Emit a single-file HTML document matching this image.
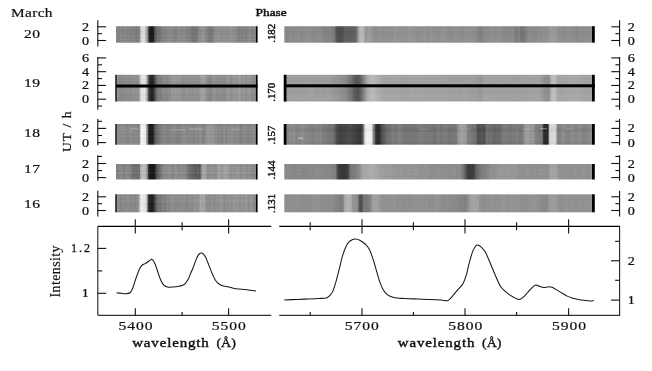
<!DOCTYPE html><html><head><meta charset="utf-8"><title>Spectra</title><style>html,body{margin:0;padding:0;background:#fff;width:652px;height:371px;overflow:hidden}</style></head><body><svg width="652" height="371" viewBox="0 0 652 371" style="display:block">
<defs><linearGradient id="g20L" gradientUnits="userSpaceOnUse" x1="116.0" y1="0" x2="255.8" y2="0"><stop offset="0.0000" stop-color="rgb(137,137,137)"/><stop offset="0.0122" stop-color="rgb(135,135,135)"/><stop offset="0.0243" stop-color="rgb(132,132,132)"/><stop offset="0.0365" stop-color="rgb(141,141,141)"/><stop offset="0.0486" stop-color="rgb(132,132,132)"/><stop offset="0.0608" stop-color="rgb(139,139,139)"/><stop offset="0.0644" stop-color="rgb(139,139,139)"/><stop offset="0.0730" stop-color="rgb(136,136,136)"/><stop offset="0.0851" stop-color="rgb(131,131,131)"/><stop offset="0.0973" stop-color="rgb(137,137,137)"/><stop offset="0.1094" stop-color="rgb(129,129,129)"/><stop offset="0.1216" stop-color="rgb(134,134,134)"/><stop offset="0.1288" stop-color="rgb(135,135,135)"/><stop offset="0.1338" stop-color="rgb(127,127,127)"/><stop offset="0.1459" stop-color="rgb(124,124,124)"/><stop offset="0.1538" stop-color="rgb(129,129,129)"/><stop offset="0.1581" stop-color="rgb(130,130,130)"/><stop offset="0.1681" stop-color="rgb(135,135,135)"/><stop offset="0.1702" stop-color="rgb(157,157,157)"/><stop offset="0.1760" stop-color="rgb(198,198,198)"/><stop offset="0.1824" stop-color="rgb(215,215,215)"/><stop offset="0.1845" stop-color="rgb(228,228,228)"/><stop offset="0.1946" stop-color="rgb(223,223,223)"/><stop offset="0.2046" stop-color="rgb(226,226,226)"/><stop offset="0.2067" stop-color="rgb(217,217,217)"/><stop offset="0.2117" stop-color="rgb(186,186,186)"/><stop offset="0.2189" stop-color="rgb(176,176,176)"/><stop offset="0.2217" stop-color="rgb(163,163,163)"/><stop offset="0.2303" stop-color="rgb(105,105,105)"/><stop offset="0.2310" stop-color="rgb(99,99,99)"/><stop offset="0.2375" stop-color="rgb(40,40,40)"/><stop offset="0.2432" stop-color="rgb(33,33,33)"/><stop offset="0.2539" stop-color="rgb(25,25,25)"/><stop offset="0.2554" stop-color="rgb(34,34,34)"/><stop offset="0.2675" stop-color="rgb(27,27,27)"/><stop offset="0.2690" stop-color="rgb(35,35,35)"/><stop offset="0.2761" stop-color="rgb(80,80,80)"/><stop offset="0.2797" stop-color="rgb(93,93,93)"/><stop offset="0.2876" stop-color="rgb(103,103,103)"/><stop offset="0.2918" stop-color="rgb(105,105,105)"/><stop offset="0.3004" stop-color="rgb(120,120,120)"/><stop offset="0.3040" stop-color="rgb(115,115,115)"/><stop offset="0.3162" stop-color="rgb(119,119,119)"/><stop offset="0.3283" stop-color="rgb(126,126,126)"/><stop offset="0.3290" stop-color="rgb(129,129,129)"/><stop offset="0.3405" stop-color="rgb(136,136,136)"/><stop offset="0.3526" stop-color="rgb(129,129,129)"/><stop offset="0.3648" stop-color="rgb(138,138,138)"/><stop offset="0.3770" stop-color="rgb(141,141,141)"/><stop offset="0.3863" stop-color="rgb(141,141,141)"/><stop offset="0.3891" stop-color="rgb(139,139,139)"/><stop offset="0.4013" stop-color="rgb(142,142,142)"/><stop offset="0.4134" stop-color="rgb(134,134,134)"/><stop offset="0.4256" stop-color="rgb(134,134,134)"/><stop offset="0.4378" stop-color="rgb(136,136,136)"/><stop offset="0.4499" stop-color="rgb(144,144,144)"/><stop offset="0.4621" stop-color="rgb(140,140,140)"/><stop offset="0.4742" stop-color="rgb(138,138,138)"/><stop offset="0.4864" stop-color="rgb(142,142,142)"/><stop offset="0.4936" stop-color="rgb(141,141,141)"/><stop offset="0.4986" stop-color="rgb(138,138,138)"/><stop offset="0.5107" stop-color="rgb(131,131,131)"/><stop offset="0.5229" stop-color="rgb(135,135,135)"/><stop offset="0.5351" stop-color="rgb(129,129,129)"/><stop offset="0.5365" stop-color="rgb(125,125,125)"/><stop offset="0.5472" stop-color="rgb(118,118,118)"/><stop offset="0.5594" stop-color="rgb(120,120,120)"/><stop offset="0.5651" stop-color="rgb(117,117,117)"/><stop offset="0.5715" stop-color="rgb(119,119,119)"/><stop offset="0.5837" stop-color="rgb(128,128,128)"/><stop offset="0.5880" stop-color="rgb(123,123,123)"/><stop offset="0.5959" stop-color="rgb(145,145,145)"/><stop offset="0.5973" stop-color="rgb(145,145,145)"/><stop offset="0.6080" stop-color="rgb(142,142,142)"/><stop offset="0.6202" stop-color="rgb(154,154,154)"/><stop offset="0.6323" stop-color="rgb(141,141,141)"/><stop offset="0.6330" stop-color="rgb(147,147,147)"/><stop offset="0.6445" stop-color="rgb(135,135,135)"/><stop offset="0.6509" stop-color="rgb(131,131,131)"/><stop offset="0.6567" stop-color="rgb(133,133,133)"/><stop offset="0.6688" stop-color="rgb(119,119,119)"/><stop offset="0.6724" stop-color="rgb(123,123,123)"/><stop offset="0.6810" stop-color="rgb(125,125,125)"/><stop offset="0.6931" stop-color="rgb(121,121,121)"/><stop offset="0.6938" stop-color="rgb(129,129,129)"/><stop offset="0.7053" stop-color="rgb(143,143,143)"/><stop offset="0.7082" stop-color="rgb(143,143,143)"/><stop offset="0.7175" stop-color="rgb(147,147,147)"/><stop offset="0.7296" stop-color="rgb(144,144,144)"/><stop offset="0.7418" stop-color="rgb(149,149,149)"/><stop offset="0.7539" stop-color="rgb(140,140,140)"/><stop offset="0.7661" stop-color="rgb(146,146,146)"/><stop offset="0.7783" stop-color="rgb(145,145,145)"/><stop offset="0.7904" stop-color="rgb(144,144,144)"/><stop offset="0.8026" stop-color="rgb(142,142,142)"/><stop offset="0.8147" stop-color="rgb(148,148,148)"/><stop offset="0.8269" stop-color="rgb(150,150,150)"/><stop offset="0.8391" stop-color="rgb(143,143,143)"/><stop offset="0.8512" stop-color="rgb(143,143,143)"/><stop offset="0.8634" stop-color="rgb(141,141,141)"/><stop offset="0.8755" stop-color="rgb(126,126,126)"/><stop offset="0.8834" stop-color="rgb(130,130,130)"/><stop offset="0.8877" stop-color="rgb(133,133,133)"/><stop offset="0.8999" stop-color="rgb(131,131,131)"/><stop offset="0.9120" stop-color="rgb(136,136,136)"/><stop offset="0.9242" stop-color="rgb(133,133,133)"/><stop offset="0.9299" stop-color="rgb(127,127,127)"/><stop offset="0.9363" stop-color="rgb(129,129,129)"/><stop offset="0.9442" stop-color="rgb(140,140,140)"/><stop offset="0.9485" stop-color="rgb(138,138,138)"/><stop offset="0.9607" stop-color="rgb(143,143,143)"/><stop offset="0.9728" stop-color="rgb(132,132,132)"/><stop offset="0.9850" stop-color="rgb(139,139,139)"/><stop offset="0.9971" stop-color="rgb(135,135,135)"/><stop offset="1.0000" stop-color="rgb(140,140,140)"/></linearGradient><linearGradient id="g20R" gradientUnits="userSpaceOnUse" x1="284.3" y1="0" x2="592.0" y2="0"><stop offset="0.0000" stop-color="rgb(139,139,139)"/><stop offset="0.0065" stop-color="rgb(136,136,136)"/><stop offset="0.0130" stop-color="rgb(136,136,136)"/><stop offset="0.0195" stop-color="rgb(142,142,142)"/><stop offset="0.0260" stop-color="rgb(137,137,137)"/><stop offset="0.0325" stop-color="rgb(138,138,138)"/><stop offset="0.0390" stop-color="rgb(139,139,139)"/><stop offset="0.0455" stop-color="rgb(143,143,143)"/><stop offset="0.0510" stop-color="rgb(140,140,140)"/><stop offset="0.0520" stop-color="rgb(137,137,137)"/><stop offset="0.0585" stop-color="rgb(139,139,139)"/><stop offset="0.0650" stop-color="rgb(140,140,140)"/><stop offset="0.0715" stop-color="rgb(143,143,143)"/><stop offset="0.0780" stop-color="rgb(142,142,142)"/><stop offset="0.0845" stop-color="rgb(142,142,142)"/><stop offset="0.0910" stop-color="rgb(138,138,138)"/><stop offset="0.0975" stop-color="rgb(139,139,139)"/><stop offset="0.1040" stop-color="rgb(138,138,138)"/><stop offset="0.1105" stop-color="rgb(142,142,142)"/><stop offset="0.1160" stop-color="rgb(139,139,139)"/><stop offset="0.1170" stop-color="rgb(142,142,142)"/><stop offset="0.1235" stop-color="rgb(135,135,135)"/><stop offset="0.1300" stop-color="rgb(133,133,133)"/><stop offset="0.1365" stop-color="rgb(132,132,132)"/><stop offset="0.1430" stop-color="rgb(131,131,131)"/><stop offset="0.1485" stop-color="rgb(132,132,132)"/><stop offset="0.1495" stop-color="rgb(131,131,131)"/><stop offset="0.1560" stop-color="rgb(127,127,127)"/><stop offset="0.1625" stop-color="rgb(119,119,119)"/><stop offset="0.1631" stop-color="rgb(120,120,120)"/><stop offset="0.1680" stop-color="rgb(90,90,90)"/><stop offset="0.1690" stop-color="rgb(85,85,85)"/><stop offset="0.1755" stop-color="rgb(79,79,79)"/><stop offset="0.1778" stop-color="rgb(77,77,77)"/><stop offset="0.1820" stop-color="rgb(77,77,77)"/><stop offset="0.1885" stop-color="rgb(80,80,80)"/><stop offset="0.1908" stop-color="rgb(80,80,80)"/><stop offset="0.1950" stop-color="rgb(92,92,92)"/><stop offset="0.1973" stop-color="rgb(93,93,93)"/><stop offset="0.2015" stop-color="rgb(95,95,95)"/><stop offset="0.2080" stop-color="rgb(94,94,94)"/><stop offset="0.2145" stop-color="rgb(95,95,95)"/><stop offset="0.2200" stop-color="rgb(95,95,95)"/><stop offset="0.2210" stop-color="rgb(97,97,97)"/><stop offset="0.2275" stop-color="rgb(96,96,96)"/><stop offset="0.2330" stop-color="rgb(103,103,103)"/><stop offset="0.2340" stop-color="rgb(113,113,113)"/><stop offset="0.2379" stop-color="rgb(135,135,135)"/><stop offset="0.2405" stop-color="rgb(154,154,154)"/><stop offset="0.2444" stop-color="rgb(177,177,177)"/><stop offset="0.2470" stop-color="rgb(183,183,183)"/><stop offset="0.2525" stop-color="rgb(186,186,186)"/><stop offset="0.2535" stop-color="rgb(187,187,187)"/><stop offset="0.2600" stop-color="rgb(171,171,171)"/><stop offset="0.2606" stop-color="rgb(171,171,171)"/><stop offset="0.2655" stop-color="rgb(143,143,143)"/><stop offset="0.2665" stop-color="rgb(145,145,145)"/><stop offset="0.2720" stop-color="rgb(161,161,161)"/><stop offset="0.2730" stop-color="rgb(157,157,157)"/><stop offset="0.2785" stop-color="rgb(155,155,155)"/><stop offset="0.2795" stop-color="rgb(155,155,155)"/><stop offset="0.2860" stop-color="rgb(146,146,146)"/><stop offset="0.2915" stop-color="rgb(145,145,145)"/><stop offset="0.2925" stop-color="rgb(142,142,142)"/><stop offset="0.2990" stop-color="rgb(143,143,143)"/><stop offset="0.3055" stop-color="rgb(144,144,144)"/><stop offset="0.3110" stop-color="rgb(147,147,147)"/><stop offset="0.3120" stop-color="rgb(146,146,146)"/><stop offset="0.3185" stop-color="rgb(143,143,143)"/><stop offset="0.3250" stop-color="rgb(143,143,143)"/><stop offset="0.3315" stop-color="rgb(144,144,144)"/><stop offset="0.3380" stop-color="rgb(144,144,144)"/><stop offset="0.3445" stop-color="rgb(146,146,146)"/><stop offset="0.3510" stop-color="rgb(143,143,143)"/><stop offset="0.3575" stop-color="rgb(150,150,150)"/><stop offset="0.3640" stop-color="rgb(148,148,148)"/><stop offset="0.3705" stop-color="rgb(144,144,144)"/><stop offset="0.3760" stop-color="rgb(147,147,147)"/><stop offset="0.3770" stop-color="rgb(145,145,145)"/><stop offset="0.3835" stop-color="rgb(146,146,146)"/><stop offset="0.3900" stop-color="rgb(146,146,146)"/><stop offset="0.3965" stop-color="rgb(144,144,144)"/><stop offset="0.4030" stop-color="rgb(149,149,149)"/><stop offset="0.4095" stop-color="rgb(150,150,150)"/><stop offset="0.4160" stop-color="rgb(146,146,146)"/><stop offset="0.4225" stop-color="rgb(146,146,146)"/><stop offset="0.4290" stop-color="rgb(143,143,143)"/><stop offset="0.4355" stop-color="rgb(143,143,143)"/><stop offset="0.4420" stop-color="rgb(144,144,144)"/><stop offset="0.4485" stop-color="rgb(144,144,144)"/><stop offset="0.4550" stop-color="rgb(148,148,148)"/><stop offset="0.4615" stop-color="rgb(143,143,143)"/><stop offset="0.4680" stop-color="rgb(141,141,141)"/><stop offset="0.4735" stop-color="rgb(145,145,145)"/><stop offset="0.4745" stop-color="rgb(149,149,149)"/><stop offset="0.4810" stop-color="rgb(145,145,145)"/><stop offset="0.4875" stop-color="rgb(142,142,142)"/><stop offset="0.4940" stop-color="rgb(145,145,145)"/><stop offset="0.5005" stop-color="rgb(140,140,140)"/><stop offset="0.5070" stop-color="rgb(144,144,144)"/><stop offset="0.5135" stop-color="rgb(148,148,148)"/><stop offset="0.5200" stop-color="rgb(147,147,147)"/><stop offset="0.5265" stop-color="rgb(145,145,145)"/><stop offset="0.5330" stop-color="rgb(141,141,141)"/><stop offset="0.5395" stop-color="rgb(142,142,142)"/><stop offset="0.5460" stop-color="rgb(140,140,140)"/><stop offset="0.5525" stop-color="rgb(145,145,145)"/><stop offset="0.5590" stop-color="rgb(143,143,143)"/><stop offset="0.5655" stop-color="rgb(145,145,145)"/><stop offset="0.5720" stop-color="rgb(141,141,141)"/><stop offset="0.5785" stop-color="rgb(140,140,140)"/><stop offset="0.5850" stop-color="rgb(145,145,145)"/><stop offset="0.5915" stop-color="rgb(146,146,146)"/><stop offset="0.5980" stop-color="rgb(144,144,144)"/><stop offset="0.6045" stop-color="rgb(144,144,144)"/><stop offset="0.6110" stop-color="rgb(144,144,144)"/><stop offset="0.6175" stop-color="rgb(143,143,143)"/><stop offset="0.6230" stop-color="rgb(141,141,141)"/><stop offset="0.6240" stop-color="rgb(138,138,138)"/><stop offset="0.6305" stop-color="rgb(133,133,133)"/><stop offset="0.6360" stop-color="rgb(127,127,127)"/><stop offset="0.6370" stop-color="rgb(127,127,127)"/><stop offset="0.6435" stop-color="rgb(131,131,131)"/><stop offset="0.6490" stop-color="rgb(141,141,141)"/><stop offset="0.6500" stop-color="rgb(137,137,137)"/><stop offset="0.6565" stop-color="rgb(139,139,139)"/><stop offset="0.6630" stop-color="rgb(139,139,139)"/><stop offset="0.6695" stop-color="rgb(142,142,142)"/><stop offset="0.6760" stop-color="rgb(144,144,144)"/><stop offset="0.6825" stop-color="rgb(140,140,140)"/><stop offset="0.6890" stop-color="rgb(144,144,144)"/><stop offset="0.6955" stop-color="rgb(144,144,144)"/><stop offset="0.7020" stop-color="rgb(144,144,144)"/><stop offset="0.7085" stop-color="rgb(139,139,139)"/><stop offset="0.7150" stop-color="rgb(137,137,137)"/><stop offset="0.7215" stop-color="rgb(137,137,137)"/><stop offset="0.7280" stop-color="rgb(137,137,137)"/><stop offset="0.7345" stop-color="rgb(137,137,137)"/><stop offset="0.7410" stop-color="rgb(140,140,140)"/><stop offset="0.7433" stop-color="rgb(139,139,139)"/><stop offset="0.7475" stop-color="rgb(133,133,133)"/><stop offset="0.7530" stop-color="rgb(117,117,117)"/><stop offset="0.7540" stop-color="rgb(122,122,122)"/><stop offset="0.7605" stop-color="rgb(131,131,131)"/><stop offset="0.7628" stop-color="rgb(135,135,135)"/><stop offset="0.7670" stop-color="rgb(122,122,122)"/><stop offset="0.7693" stop-color="rgb(113,113,113)"/><stop offset="0.7735" stop-color="rgb(119,119,119)"/><stop offset="0.7800" stop-color="rgb(118,118,118)"/><stop offset="0.7823" stop-color="rgb(123,123,123)"/><stop offset="0.7865" stop-color="rgb(130,130,130)"/><stop offset="0.7920" stop-color="rgb(137,137,137)"/><stop offset="0.7930" stop-color="rgb(140,140,140)"/><stop offset="0.7995" stop-color="rgb(140,140,140)"/><stop offset="0.8060" stop-color="rgb(140,140,140)"/><stop offset="0.8125" stop-color="rgb(138,138,138)"/><stop offset="0.8190" stop-color="rgb(136,136,136)"/><stop offset="0.8255" stop-color="rgb(142,142,142)"/><stop offset="0.8320" stop-color="rgb(139,139,139)"/><stop offset="0.8385" stop-color="rgb(143,143,143)"/><stop offset="0.8450" stop-color="rgb(145,145,145)"/><stop offset="0.8473" stop-color="rgb(141,141,141)"/><stop offset="0.8515" stop-color="rgb(143,143,143)"/><stop offset="0.8580" stop-color="rgb(147,147,147)"/><stop offset="0.8635" stop-color="rgb(151,151,151)"/><stop offset="0.8645" stop-color="rgb(155,155,155)"/><stop offset="0.8710" stop-color="rgb(154,154,154)"/><stop offset="0.8775" stop-color="rgb(151,151,151)"/><stop offset="0.8830" stop-color="rgb(155,155,155)"/><stop offset="0.8840" stop-color="rgb(151,151,151)"/><stop offset="0.8905" stop-color="rgb(144,144,144)"/><stop offset="0.8960" stop-color="rgb(141,141,141)"/><stop offset="0.8970" stop-color="rgb(144,144,144)"/><stop offset="0.9035" stop-color="rgb(143,143,143)"/><stop offset="0.9100" stop-color="rgb(138,138,138)"/><stop offset="0.9165" stop-color="rgb(143,143,143)"/><stop offset="0.9230" stop-color="rgb(144,144,144)"/><stop offset="0.9295" stop-color="rgb(142,142,142)"/><stop offset="0.9360" stop-color="rgb(139,139,139)"/><stop offset="0.9425" stop-color="rgb(140,140,140)"/><stop offset="0.9490" stop-color="rgb(137,137,137)"/><stop offset="0.9555" stop-color="rgb(136,136,136)"/><stop offset="0.9620" stop-color="rgb(143,143,143)"/><stop offset="0.9685" stop-color="rgb(141,141,141)"/><stop offset="0.9750" stop-color="rgb(140,140,140)"/><stop offset="0.9815" stop-color="rgb(143,143,143)"/><stop offset="0.9880" stop-color="rgb(139,139,139)"/><stop offset="0.9945" stop-color="rgb(142,142,142)"/><stop offset="1.0000" stop-color="rgb(139,139,139)"/></linearGradient><linearGradient id="g19L" gradientUnits="userSpaceOnUse" x1="116.0" y1="0" x2="255.8" y2="0"><stop offset="0.0000" stop-color="rgb(143,143,143)"/><stop offset="0.0122" stop-color="rgb(148,148,148)"/><stop offset="0.0243" stop-color="rgb(139,139,139)"/><stop offset="0.0365" stop-color="rgb(140,140,140)"/><stop offset="0.0486" stop-color="rgb(140,140,140)"/><stop offset="0.0608" stop-color="rgb(140,140,140)"/><stop offset="0.0730" stop-color="rgb(145,145,145)"/><stop offset="0.0851" stop-color="rgb(140,140,140)"/><stop offset="0.0973" stop-color="rgb(143,143,143)"/><stop offset="0.1094" stop-color="rgb(139,139,139)"/><stop offset="0.1216" stop-color="rgb(151,151,151)"/><stop offset="0.1338" stop-color="rgb(143,143,143)"/><stop offset="0.1359" stop-color="rgb(145,145,145)"/><stop offset="0.1459" stop-color="rgb(144,144,144)"/><stop offset="0.1581" stop-color="rgb(146,146,146)"/><stop offset="0.1645" stop-color="rgb(145,145,145)"/><stop offset="0.1702" stop-color="rgb(186,186,186)"/><stop offset="0.1731" stop-color="rgb(198,198,198)"/><stop offset="0.1824" stop-color="rgb(228,228,228)"/><stop offset="0.1946" stop-color="rgb(227,227,227)"/><stop offset="0.2067" stop-color="rgb(235,235,235)"/><stop offset="0.2074" stop-color="rgb(228,228,228)"/><stop offset="0.2182" stop-color="rgb(192,192,192)"/><stop offset="0.2189" stop-color="rgb(187,187,187)"/><stop offset="0.2275" stop-color="rgb(135,135,135)"/><stop offset="0.2310" stop-color="rgb(98,98,98)"/><stop offset="0.2346" stop-color="rgb(62,62,62)"/><stop offset="0.2432" stop-color="rgb(51,51,51)"/><stop offset="0.2504" stop-color="rgb(38,38,38)"/><stop offset="0.2554" stop-color="rgb(32,32,32)"/><stop offset="0.2675" stop-color="rgb(43,43,43)"/><stop offset="0.2704" stop-color="rgb(45,45,45)"/><stop offset="0.2790" stop-color="rgb(90,90,90)"/><stop offset="0.2797" stop-color="rgb(86,86,86)"/><stop offset="0.2918" stop-color="rgb(109,109,109)"/><stop offset="0.2933" stop-color="rgb(120,120,120)"/><stop offset="0.3040" stop-color="rgb(129,129,129)"/><stop offset="0.3162" stop-color="rgb(124,124,124)"/><stop offset="0.3283" stop-color="rgb(134,134,134)"/><stop offset="0.3290" stop-color="rgb(135,135,135)"/><stop offset="0.3405" stop-color="rgb(140,140,140)"/><stop offset="0.3526" stop-color="rgb(139,139,139)"/><stop offset="0.3648" stop-color="rgb(137,137,137)"/><stop offset="0.3770" stop-color="rgb(142,142,142)"/><stop offset="0.3863" stop-color="rgb(143,143,143)"/><stop offset="0.3891" stop-color="rgb(145,145,145)"/><stop offset="0.4013" stop-color="rgb(156,156,156)"/><stop offset="0.4077" stop-color="rgb(155,155,155)"/><stop offset="0.4134" stop-color="rgb(148,148,148)"/><stop offset="0.4256" stop-color="rgb(155,155,155)"/><stop offset="0.4378" stop-color="rgb(150,150,150)"/><stop offset="0.4499" stop-color="rgb(150,150,150)"/><stop offset="0.4578" stop-color="rgb(153,153,153)"/><stop offset="0.4621" stop-color="rgb(154,154,154)"/><stop offset="0.4721" stop-color="rgb(143,143,143)"/><stop offset="0.4742" stop-color="rgb(143,143,143)"/><stop offset="0.4864" stop-color="rgb(144,144,144)"/><stop offset="0.4986" stop-color="rgb(148,148,148)"/><stop offset="0.5107" stop-color="rgb(151,151,151)"/><stop offset="0.5229" stop-color="rgb(144,144,144)"/><stop offset="0.5293" stop-color="rgb(145,145,145)"/><stop offset="0.5351" stop-color="rgb(147,147,147)"/><stop offset="0.5472" stop-color="rgb(145,145,145)"/><stop offset="0.5594" stop-color="rgb(145,145,145)"/><stop offset="0.5715" stop-color="rgb(148,148,148)"/><stop offset="0.5837" stop-color="rgb(144,144,144)"/><stop offset="0.5937" stop-color="rgb(145,145,145)"/><stop offset="0.5959" stop-color="rgb(149,149,149)"/><stop offset="0.6009" stop-color="rgb(157,157,157)"/><stop offset="0.6080" stop-color="rgb(157,157,157)"/><stop offset="0.6202" stop-color="rgb(164,164,164)"/><stop offset="0.6323" stop-color="rgb(160,160,160)"/><stop offset="0.6366" stop-color="rgb(157,157,157)"/><stop offset="0.6445" stop-color="rgb(152,152,152)"/><stop offset="0.6509" stop-color="rgb(137,137,137)"/><stop offset="0.6567" stop-color="rgb(144,144,144)"/><stop offset="0.6688" stop-color="rgb(133,133,133)"/><stop offset="0.6810" stop-color="rgb(138,138,138)"/><stop offset="0.6867" stop-color="rgb(137,137,137)"/><stop offset="0.6931" stop-color="rgb(149,149,149)"/><stop offset="0.7010" stop-color="rgb(147,147,147)"/><stop offset="0.7053" stop-color="rgb(152,152,152)"/><stop offset="0.7175" stop-color="rgb(141,141,141)"/><stop offset="0.7296" stop-color="rgb(141,141,141)"/><stop offset="0.7418" stop-color="rgb(146,146,146)"/><stop offset="0.7539" stop-color="rgb(140,140,140)"/><stop offset="0.7661" stop-color="rgb(143,143,143)"/><stop offset="0.7783" stop-color="rgb(140,140,140)"/><stop offset="0.7904" stop-color="rgb(150,150,150)"/><stop offset="0.8026" stop-color="rgb(152,152,152)"/><stop offset="0.8147" stop-color="rgb(153,153,153)"/><stop offset="0.8155" stop-color="rgb(147,147,147)"/><stop offset="0.8269" stop-color="rgb(143,143,143)"/><stop offset="0.8391" stop-color="rgb(153,153,153)"/><stop offset="0.8512" stop-color="rgb(153,153,153)"/><stop offset="0.8634" stop-color="rgb(146,146,146)"/><stop offset="0.8727" stop-color="rgb(153,153,153)"/><stop offset="0.8755" stop-color="rgb(159,159,159)"/><stop offset="0.8877" stop-color="rgb(159,159,159)"/><stop offset="0.8999" stop-color="rgb(145,145,145)"/><stop offset="0.9120" stop-color="rgb(156,156,156)"/><stop offset="0.9227" stop-color="rgb(147,147,147)"/><stop offset="0.9242" stop-color="rgb(145,145,145)"/><stop offset="0.9363" stop-color="rgb(146,146,146)"/><stop offset="0.9485" stop-color="rgb(154,154,154)"/><stop offset="0.9607" stop-color="rgb(151,151,151)"/><stop offset="0.9728" stop-color="rgb(140,140,140)"/><stop offset="0.9850" stop-color="rgb(144,144,144)"/><stop offset="0.9971" stop-color="rgb(145,145,145)"/><stop offset="1.0000" stop-color="rgb(145,145,145)"/></linearGradient><linearGradient id="g19R" gradientUnits="userSpaceOnUse" x1="284.3" y1="0" x2="592.0" y2="0"><stop offset="0.0000" stop-color="rgb(159,159,159)"/><stop offset="0.0065" stop-color="rgb(158,158,158)"/><stop offset="0.0088" stop-color="rgb(160,160,160)"/><stop offset="0.0130" stop-color="rgb(159,159,159)"/><stop offset="0.0195" stop-color="rgb(161,161,161)"/><stop offset="0.0260" stop-color="rgb(158,158,158)"/><stop offset="0.0325" stop-color="rgb(160,160,160)"/><stop offset="0.0390" stop-color="rgb(160,160,160)"/><stop offset="0.0455" stop-color="rgb(158,158,158)"/><stop offset="0.0520" stop-color="rgb(159,159,159)"/><stop offset="0.0585" stop-color="rgb(161,161,161)"/><stop offset="0.0650" stop-color="rgb(160,160,160)"/><stop offset="0.0715" stop-color="rgb(158,158,158)"/><stop offset="0.0780" stop-color="rgb(162,162,162)"/><stop offset="0.0835" stop-color="rgb(160,160,160)"/><stop offset="0.0845" stop-color="rgb(161,161,161)"/><stop offset="0.0910" stop-color="rgb(162,162,162)"/><stop offset="0.0975" stop-color="rgb(158,158,158)"/><stop offset="0.1040" stop-color="rgb(158,158,158)"/><stop offset="0.1105" stop-color="rgb(157,157,157)"/><stop offset="0.1170" stop-color="rgb(160,160,160)"/><stop offset="0.1235" stop-color="rgb(158,158,158)"/><stop offset="0.1300" stop-color="rgb(157,157,157)"/><stop offset="0.1365" stop-color="rgb(158,158,158)"/><stop offset="0.1430" stop-color="rgb(160,160,160)"/><stop offset="0.1485" stop-color="rgb(158,158,158)"/><stop offset="0.1495" stop-color="rgb(159,159,159)"/><stop offset="0.1560" stop-color="rgb(154,154,154)"/><stop offset="0.1625" stop-color="rgb(151,151,151)"/><stop offset="0.1690" stop-color="rgb(153,153,153)"/><stop offset="0.1713" stop-color="rgb(150,150,150)"/><stop offset="0.1755" stop-color="rgb(149,149,149)"/><stop offset="0.1820" stop-color="rgb(148,148,148)"/><stop offset="0.1885" stop-color="rgb(143,143,143)"/><stop offset="0.1950" stop-color="rgb(140,140,140)"/><stop offset="0.1973" stop-color="rgb(142,142,142)"/><stop offset="0.2015" stop-color="rgb(138,138,138)"/><stop offset="0.2054" stop-color="rgb(132,132,132)"/><stop offset="0.2080" stop-color="rgb(128,128,128)"/><stop offset="0.2145" stop-color="rgb(118,118,118)"/><stop offset="0.2184" stop-color="rgb(115,115,115)"/><stop offset="0.2210" stop-color="rgb(110,110,110)"/><stop offset="0.2265" stop-color="rgb(92,92,92)"/><stop offset="0.2275" stop-color="rgb(92,92,92)"/><stop offset="0.2340" stop-color="rgb(89,89,89)"/><stop offset="0.2395" stop-color="rgb(84,84,84)"/><stop offset="0.2405" stop-color="rgb(83,83,83)"/><stop offset="0.2470" stop-color="rgb(96,96,96)"/><stop offset="0.2473" stop-color="rgb(95,95,95)"/><stop offset="0.2525" stop-color="rgb(118,118,118)"/><stop offset="0.2535" stop-color="rgb(118,118,118)"/><stop offset="0.2600" stop-color="rgb(140,140,140)"/><stop offset="0.2606" stop-color="rgb(140,140,140)"/><stop offset="0.2665" stop-color="rgb(161,161,161)"/><stop offset="0.2688" stop-color="rgb(170,170,170)"/><stop offset="0.2730" stop-color="rgb(175,175,175)"/><stop offset="0.2785" stop-color="rgb(185,185,185)"/><stop offset="0.2795" stop-color="rgb(185,185,185)"/><stop offset="0.2860" stop-color="rgb(187,187,187)"/><stop offset="0.2925" stop-color="rgb(183,183,183)"/><stop offset="0.2948" stop-color="rgb(185,185,185)"/><stop offset="0.2990" stop-color="rgb(178,178,178)"/><stop offset="0.3045" stop-color="rgb(174,174,174)"/><stop offset="0.3055" stop-color="rgb(174,174,174)"/><stop offset="0.3120" stop-color="rgb(170,170,170)"/><stop offset="0.3185" stop-color="rgb(167,167,167)"/><stop offset="0.3250" stop-color="rgb(165,165,165)"/><stop offset="0.3273" stop-color="rgb(166,166,166)"/><stop offset="0.3315" stop-color="rgb(164,164,164)"/><stop offset="0.3380" stop-color="rgb(164,164,164)"/><stop offset="0.3445" stop-color="rgb(165,165,165)"/><stop offset="0.3510" stop-color="rgb(165,165,165)"/><stop offset="0.3575" stop-color="rgb(167,167,167)"/><stop offset="0.3640" stop-color="rgb(164,164,164)"/><stop offset="0.3705" stop-color="rgb(165,165,165)"/><stop offset="0.3770" stop-color="rgb(164,164,164)"/><stop offset="0.3835" stop-color="rgb(164,164,164)"/><stop offset="0.3900" stop-color="rgb(162,162,162)"/><stop offset="0.3965" stop-color="rgb(164,164,164)"/><stop offset="0.4030" stop-color="rgb(162,162,162)"/><stop offset="0.4095" stop-color="rgb(166,166,166)"/><stop offset="0.4160" stop-color="rgb(165,165,165)"/><stop offset="0.4225" stop-color="rgb(163,163,163)"/><stop offset="0.4290" stop-color="rgb(164,164,164)"/><stop offset="0.4355" stop-color="rgb(166,166,166)"/><stop offset="0.4410" stop-color="rgb(164,164,164)"/><stop offset="0.4420" stop-color="rgb(162,162,162)"/><stop offset="0.4485" stop-color="rgb(165,165,165)"/><stop offset="0.4550" stop-color="rgb(163,163,163)"/><stop offset="0.4615" stop-color="rgb(164,164,164)"/><stop offset="0.4680" stop-color="rgb(165,165,165)"/><stop offset="0.4745" stop-color="rgb(163,163,163)"/><stop offset="0.4810" stop-color="rgb(163,163,163)"/><stop offset="0.4875" stop-color="rgb(164,164,164)"/><stop offset="0.4940" stop-color="rgb(165,165,165)"/><stop offset="0.5005" stop-color="rgb(162,162,162)"/><stop offset="0.5070" stop-color="rgb(164,164,164)"/><stop offset="0.5135" stop-color="rgb(163,163,163)"/><stop offset="0.5200" stop-color="rgb(163,163,163)"/><stop offset="0.5265" stop-color="rgb(162,162,162)"/><stop offset="0.5330" stop-color="rgb(161,161,161)"/><stop offset="0.5395" stop-color="rgb(160,160,160)"/><stop offset="0.5460" stop-color="rgb(160,160,160)"/><stop offset="0.5525" stop-color="rgb(159,159,159)"/><stop offset="0.5590" stop-color="rgb(163,163,163)"/><stop offset="0.5655" stop-color="rgb(160,160,160)"/><stop offset="0.5720" stop-color="rgb(159,159,159)"/><stop offset="0.5785" stop-color="rgb(159,159,159)"/><stop offset="0.5850" stop-color="rgb(162,162,162)"/><stop offset="0.5915" stop-color="rgb(162,162,162)"/><stop offset="0.5980" stop-color="rgb(161,161,161)"/><stop offset="0.6045" stop-color="rgb(159,159,159)"/><stop offset="0.6110" stop-color="rgb(159,159,159)"/><stop offset="0.6175" stop-color="rgb(159,159,159)"/><stop offset="0.6198" stop-color="rgb(160,160,160)"/><stop offset="0.6240" stop-color="rgb(158,158,158)"/><stop offset="0.6305" stop-color="rgb(154,154,154)"/><stop offset="0.6360" stop-color="rgb(153,153,153)"/><stop offset="0.6370" stop-color="rgb(153,153,153)"/><stop offset="0.6435" stop-color="rgb(156,156,156)"/><stop offset="0.6500" stop-color="rgb(163,163,163)"/><stop offset="0.6523" stop-color="rgb(162,162,162)"/><stop offset="0.6565" stop-color="rgb(164,164,164)"/><stop offset="0.6630" stop-color="rgb(162,162,162)"/><stop offset="0.6695" stop-color="rgb(161,161,161)"/><stop offset="0.6760" stop-color="rgb(164,164,164)"/><stop offset="0.6825" stop-color="rgb(161,161,161)"/><stop offset="0.6890" stop-color="rgb(161,161,161)"/><stop offset="0.6955" stop-color="rgb(160,160,160)"/><stop offset="0.7020" stop-color="rgb(161,161,161)"/><stop offset="0.7085" stop-color="rgb(162,162,162)"/><stop offset="0.7150" stop-color="rgb(162,162,162)"/><stop offset="0.7215" stop-color="rgb(161,161,161)"/><stop offset="0.7280" stop-color="rgb(162,162,162)"/><stop offset="0.7345" stop-color="rgb(160,160,160)"/><stop offset="0.7410" stop-color="rgb(161,161,161)"/><stop offset="0.7475" stop-color="rgb(160,160,160)"/><stop offset="0.7540" stop-color="rgb(161,161,161)"/><stop offset="0.7605" stop-color="rgb(160,160,160)"/><stop offset="0.7670" stop-color="rgb(160,160,160)"/><stop offset="0.7735" stop-color="rgb(161,161,161)"/><stop offset="0.7800" stop-color="rgb(161,161,161)"/><stop offset="0.7865" stop-color="rgb(162,162,162)"/><stop offset="0.7930" stop-color="rgb(162,162,162)"/><stop offset="0.7995" stop-color="rgb(163,163,163)"/><stop offset="0.8060" stop-color="rgb(163,163,163)"/><stop offset="0.8125" stop-color="rgb(163,163,163)"/><stop offset="0.8190" stop-color="rgb(164,164,164)"/><stop offset="0.8255" stop-color="rgb(161,161,161)"/><stop offset="0.8310" stop-color="rgb(162,162,162)"/><stop offset="0.8320" stop-color="rgb(160,160,160)"/><stop offset="0.8385" stop-color="rgb(155,155,155)"/><stop offset="0.8440" stop-color="rgb(146,146,146)"/><stop offset="0.8450" stop-color="rgb(144,144,144)"/><stop offset="0.8515" stop-color="rgb(145,145,145)"/><stop offset="0.8580" stop-color="rgb(143,143,143)"/><stop offset="0.8603" stop-color="rgb(142,142,142)"/><stop offset="0.8645" stop-color="rgb(162,162,162)"/><stop offset="0.8684" stop-color="rgb(185,185,185)"/><stop offset="0.8710" stop-color="rgb(188,188,188)"/><stop offset="0.8775" stop-color="rgb(193,193,193)"/><stop offset="0.8798" stop-color="rgb(192,192,192)"/><stop offset="0.8840" stop-color="rgb(179,179,179)"/><stop offset="0.8895" stop-color="rgb(164,164,164)"/><stop offset="0.8905" stop-color="rgb(165,165,165)"/><stop offset="0.8970" stop-color="rgb(166,166,166)"/><stop offset="0.9035" stop-color="rgb(163,163,163)"/><stop offset="0.9100" stop-color="rgb(166,166,166)"/><stop offset="0.9165" stop-color="rgb(166,166,166)"/><stop offset="0.9230" stop-color="rgb(168,168,168)"/><stop offset="0.9285" stop-color="rgb(167,167,167)"/><stop offset="0.9295" stop-color="rgb(168,168,168)"/><stop offset="0.9360" stop-color="rgb(168,168,168)"/><stop offset="0.9425" stop-color="rgb(167,167,167)"/><stop offset="0.9490" stop-color="rgb(168,168,168)"/><stop offset="0.9555" stop-color="rgb(167,167,167)"/><stop offset="0.9620" stop-color="rgb(167,167,167)"/><stop offset="0.9685" stop-color="rgb(165,165,165)"/><stop offset="0.9750" stop-color="rgb(163,163,163)"/><stop offset="0.9815" stop-color="rgb(164,164,164)"/><stop offset="0.9880" stop-color="rgb(165,165,165)"/><stop offset="0.9945" stop-color="rgb(163,163,163)"/><stop offset="1.0000" stop-color="rgb(165,165,165)"/></linearGradient><linearGradient id="g18L" gradientUnits="userSpaceOnUse" x1="116.0" y1="0" x2="255.8" y2="0"><stop offset="0.0000" stop-color="rgb(135,135,135)"/><stop offset="0.0122" stop-color="rgb(142,142,142)"/><stop offset="0.0143" stop-color="rgb(137,137,137)"/><stop offset="0.0243" stop-color="rgb(138,138,138)"/><stop offset="0.0365" stop-color="rgb(139,139,139)"/><stop offset="0.0486" stop-color="rgb(139,139,139)"/><stop offset="0.0608" stop-color="rgb(140,140,140)"/><stop offset="0.0730" stop-color="rgb(137,137,137)"/><stop offset="0.0851" stop-color="rgb(129,129,129)"/><stop offset="0.0973" stop-color="rgb(142,142,142)"/><stop offset="0.1001" stop-color="rgb(137,137,137)"/><stop offset="0.1094" stop-color="rgb(141,141,141)"/><stop offset="0.1216" stop-color="rgb(136,136,136)"/><stop offset="0.1338" stop-color="rgb(136,136,136)"/><stop offset="0.1459" stop-color="rgb(138,138,138)"/><stop offset="0.1502" stop-color="rgb(135,135,135)"/><stop offset="0.1581" stop-color="rgb(131,131,131)"/><stop offset="0.1702" stop-color="rgb(143,143,143)"/><stop offset="0.1760" stop-color="rgb(225,225,225)"/><stop offset="0.1824" stop-color="rgb(246,246,246)"/><stop offset="0.1845" stop-color="rgb(248,248,248)"/><stop offset="0.1946" stop-color="rgb(243,243,243)"/><stop offset="0.2067" stop-color="rgb(239,239,239)"/><stop offset="0.2103" stop-color="rgb(246,246,246)"/><stop offset="0.2175" stop-color="rgb(170,170,170)"/><stop offset="0.2189" stop-color="rgb(160,160,160)"/><stop offset="0.2260" stop-color="rgb(135,135,135)"/><stop offset="0.2310" stop-color="rgb(70,70,70)"/><stop offset="0.2318" stop-color="rgb(58,58,58)"/><stop offset="0.2396" stop-color="rgb(28,28,28)"/><stop offset="0.2432" stop-color="rgb(23,23,23)"/><stop offset="0.2554" stop-color="rgb(30,30,30)"/><stop offset="0.2618" stop-color="rgb(25,25,25)"/><stop offset="0.2675" stop-color="rgb(49,49,49)"/><stop offset="0.2690" stop-color="rgb(45,45,45)"/><stop offset="0.2790" stop-color="rgb(90,90,90)"/><stop offset="0.2797" stop-color="rgb(91,91,91)"/><stop offset="0.2918" stop-color="rgb(102,102,102)"/><stop offset="0.3004" stop-color="rgb(113,113,113)"/><stop offset="0.3040" stop-color="rgb(114,114,114)"/><stop offset="0.3162" stop-color="rgb(123,123,123)"/><stop offset="0.3283" stop-color="rgb(130,130,130)"/><stop offset="0.3405" stop-color="rgb(132,132,132)"/><stop offset="0.3505" stop-color="rgb(135,135,135)"/><stop offset="0.3526" stop-color="rgb(137,137,137)"/><stop offset="0.3648" stop-color="rgb(128,128,128)"/><stop offset="0.3770" stop-color="rgb(130,130,130)"/><stop offset="0.3891" stop-color="rgb(131,131,131)"/><stop offset="0.4013" stop-color="rgb(139,139,139)"/><stop offset="0.4134" stop-color="rgb(133,133,133)"/><stop offset="0.4256" stop-color="rgb(137,137,137)"/><stop offset="0.4378" stop-color="rgb(128,128,128)"/><stop offset="0.4499" stop-color="rgb(129,129,129)"/><stop offset="0.4621" stop-color="rgb(133,133,133)"/><stop offset="0.4742" stop-color="rgb(139,139,139)"/><stop offset="0.4864" stop-color="rgb(140,140,140)"/><stop offset="0.4986" stop-color="rgb(139,139,139)"/><stop offset="0.5107" stop-color="rgb(133,133,133)"/><stop offset="0.5229" stop-color="rgb(137,137,137)"/><stop offset="0.5293" stop-color="rgb(137,137,137)"/><stop offset="0.5351" stop-color="rgb(136,136,136)"/><stop offset="0.5472" stop-color="rgb(136,136,136)"/><stop offset="0.5594" stop-color="rgb(130,130,130)"/><stop offset="0.5715" stop-color="rgb(143,143,143)"/><stop offset="0.5837" stop-color="rgb(131,131,131)"/><stop offset="0.5959" stop-color="rgb(143,143,143)"/><stop offset="0.6080" stop-color="rgb(143,143,143)"/><stop offset="0.6202" stop-color="rgb(128,128,128)"/><stop offset="0.6323" stop-color="rgb(134,134,134)"/><stop offset="0.6366" stop-color="rgb(135,135,135)"/><stop offset="0.6445" stop-color="rgb(144,144,144)"/><stop offset="0.6567" stop-color="rgb(152,152,152)"/><stop offset="0.6688" stop-color="rgb(151,151,151)"/><stop offset="0.6810" stop-color="rgb(150,150,150)"/><stop offset="0.6931" stop-color="rgb(147,147,147)"/><stop offset="0.6974" stop-color="rgb(151,151,151)"/><stop offset="0.7053" stop-color="rgb(140,140,140)"/><stop offset="0.7153" stop-color="rgb(137,137,137)"/><stop offset="0.7175" stop-color="rgb(144,144,144)"/><stop offset="0.7296" stop-color="rgb(132,132,132)"/><stop offset="0.7418" stop-color="rgb(138,138,138)"/><stop offset="0.7539" stop-color="rgb(131,131,131)"/><stop offset="0.7661" stop-color="rgb(137,137,137)"/><stop offset="0.7783" stop-color="rgb(144,144,144)"/><stop offset="0.7904" stop-color="rgb(131,131,131)"/><stop offset="0.8026" stop-color="rgb(142,142,142)"/><stop offset="0.8147" stop-color="rgb(137,137,137)"/><stop offset="0.8269" stop-color="rgb(143,143,143)"/><stop offset="0.8391" stop-color="rgb(140,140,140)"/><stop offset="0.8512" stop-color="rgb(133,133,133)"/><stop offset="0.8634" stop-color="rgb(143,143,143)"/><stop offset="0.8755" stop-color="rgb(137,137,137)"/><stop offset="0.8877" stop-color="rgb(129,129,129)"/><stop offset="0.8999" stop-color="rgb(129,129,129)"/><stop offset="0.9120" stop-color="rgb(137,137,137)"/><stop offset="0.9242" stop-color="rgb(136,136,136)"/><stop offset="0.9363" stop-color="rgb(134,134,134)"/><stop offset="0.9485" stop-color="rgb(131,131,131)"/><stop offset="0.9607" stop-color="rgb(135,135,135)"/><stop offset="0.9728" stop-color="rgb(134,134,134)"/><stop offset="0.9850" stop-color="rgb(142,142,142)"/><stop offset="0.9971" stop-color="rgb(129,129,129)"/><stop offset="1.0000" stop-color="rgb(137,137,137)"/></linearGradient><linearGradient id="g18R" gradientUnits="userSpaceOnUse" x1="284.3" y1="0" x2="592.0" y2="0"><stop offset="0.0000" stop-color="rgb(139,139,139)"/><stop offset="0.0039" stop-color="rgb(135,135,135)"/><stop offset="0.0065" stop-color="rgb(140,140,140)"/><stop offset="0.0130" stop-color="rgb(130,130,130)"/><stop offset="0.0195" stop-color="rgb(141,141,141)"/><stop offset="0.0260" stop-color="rgb(138,138,138)"/><stop offset="0.0325" stop-color="rgb(141,141,141)"/><stop offset="0.0390" stop-color="rgb(132,132,132)"/><stop offset="0.0455" stop-color="rgb(133,133,133)"/><stop offset="0.0510" stop-color="rgb(135,135,135)"/><stop offset="0.0520" stop-color="rgb(133,133,133)"/><stop offset="0.0585" stop-color="rgb(142,142,142)"/><stop offset="0.0650" stop-color="rgb(135,135,135)"/><stop offset="0.0715" stop-color="rgb(132,132,132)"/><stop offset="0.0780" stop-color="rgb(132,132,132)"/><stop offset="0.0845" stop-color="rgb(130,130,130)"/><stop offset="0.0910" stop-color="rgb(126,126,126)"/><stop offset="0.0975" stop-color="rgb(127,127,127)"/><stop offset="0.1040" stop-color="rgb(136,136,136)"/><stop offset="0.1105" stop-color="rgb(128,128,128)"/><stop offset="0.1160" stop-color="rgb(131,131,131)"/><stop offset="0.1170" stop-color="rgb(137,137,137)"/><stop offset="0.1235" stop-color="rgb(125,125,125)"/><stop offset="0.1300" stop-color="rgb(122,122,122)"/><stop offset="0.1365" stop-color="rgb(123,123,123)"/><stop offset="0.1430" stop-color="rgb(116,116,116)"/><stop offset="0.1495" stop-color="rgb(116,116,116)"/><stop offset="0.1518" stop-color="rgb(117,117,117)"/><stop offset="0.1560" stop-color="rgb(117,117,117)"/><stop offset="0.1625" stop-color="rgb(107,107,107)"/><stop offset="0.1635" stop-color="rgb(100,100,100)"/><stop offset="0.1690" stop-color="rgb(83,83,83)"/><stop offset="0.1713" stop-color="rgb(71,71,71)"/><stop offset="0.1755" stop-color="rgb(69,69,69)"/><stop offset="0.1820" stop-color="rgb(67,67,67)"/><stop offset="0.1843" stop-color="rgb(60,60,60)"/><stop offset="0.1885" stop-color="rgb(67,67,67)"/><stop offset="0.1950" stop-color="rgb(66,66,66)"/><stop offset="0.1973" stop-color="rgb(67,67,67)"/><stop offset="0.2015" stop-color="rgb(72,72,72)"/><stop offset="0.2080" stop-color="rgb(70,70,70)"/><stop offset="0.2103" stop-color="rgb(77,77,77)"/><stop offset="0.2145" stop-color="rgb(76,76,76)"/><stop offset="0.2200" stop-color="rgb(68,68,68)"/><stop offset="0.2210" stop-color="rgb(67,67,67)"/><stop offset="0.2275" stop-color="rgb(66,66,66)"/><stop offset="0.2330" stop-color="rgb(60,60,60)"/><stop offset="0.2340" stop-color="rgb(62,62,62)"/><stop offset="0.2405" stop-color="rgb(57,57,57)"/><stop offset="0.2470" stop-color="rgb(53,53,53)"/><stop offset="0.2493" stop-color="rgb(58,58,58)"/><stop offset="0.2535" stop-color="rgb(78,78,78)"/><stop offset="0.2541" stop-color="rgb(75,75,75)"/><stop offset="0.2584" stop-color="rgb(145,145,145)"/><stop offset="0.2600" stop-color="rgb(174,174,174)"/><stop offset="0.2623" stop-color="rgb(232,232,232)"/><stop offset="0.2665" stop-color="rgb(237,237,237)"/><stop offset="0.2720" stop-color="rgb(245,245,245)"/><stop offset="0.2730" stop-color="rgb(242,242,242)"/><stop offset="0.2795" stop-color="rgb(239,239,239)"/><stop offset="0.2850" stop-color="rgb(240,240,240)"/><stop offset="0.2860" stop-color="rgb(209,209,209)"/><stop offset="0.2876" stop-color="rgb(145,145,145)"/><stop offset="0.2925" stop-color="rgb(121,121,121)"/><stop offset="0.2931" stop-color="rgb(110,110,110)"/><stop offset="0.2967" stop-color="rgb(58,58,58)"/><stop offset="0.2990" stop-color="rgb(47,47,47)"/><stop offset="0.3013" stop-color="rgb(40,40,40)"/><stop offset="0.3055" stop-color="rgb(43,43,43)"/><stop offset="0.3110" stop-color="rgb(42,42,42)"/><stop offset="0.3120" stop-color="rgb(51,51,51)"/><stop offset="0.3143" stop-color="rgb(75,75,75)"/><stop offset="0.3185" stop-color="rgb(82,82,82)"/><stop offset="0.3240" stop-color="rgb(90,90,90)"/><stop offset="0.3250" stop-color="rgb(91,91,91)"/><stop offset="0.3315" stop-color="rgb(103,103,103)"/><stop offset="0.3338" stop-color="rgb(113,113,113)"/><stop offset="0.3380" stop-color="rgb(110,110,110)"/><stop offset="0.3445" stop-color="rgb(112,112,112)"/><stop offset="0.3510" stop-color="rgb(124,124,124)"/><stop offset="0.3575" stop-color="rgb(120,120,120)"/><stop offset="0.3598" stop-color="rgb(121,121,121)"/><stop offset="0.3640" stop-color="rgb(117,117,117)"/><stop offset="0.3705" stop-color="rgb(127,127,127)"/><stop offset="0.3770" stop-color="rgb(128,128,128)"/><stop offset="0.3835" stop-color="rgb(120,120,120)"/><stop offset="0.3900" stop-color="rgb(116,116,116)"/><stop offset="0.3965" stop-color="rgb(116,116,116)"/><stop offset="0.4030" stop-color="rgb(115,115,115)"/><stop offset="0.4095" stop-color="rgb(118,118,118)"/><stop offset="0.4160" stop-color="rgb(115,115,115)"/><stop offset="0.4225" stop-color="rgb(116,116,116)"/><stop offset="0.4290" stop-color="rgb(117,117,117)"/><stop offset="0.4355" stop-color="rgb(121,121,121)"/><stop offset="0.4420" stop-color="rgb(125,125,125)"/><stop offset="0.4485" stop-color="rgb(123,123,123)"/><stop offset="0.4550" stop-color="rgb(118,118,118)"/><stop offset="0.4615" stop-color="rgb(118,118,118)"/><stop offset="0.4680" stop-color="rgb(120,120,120)"/><stop offset="0.4745" stop-color="rgb(118,118,118)"/><stop offset="0.4810" stop-color="rgb(117,117,117)"/><stop offset="0.4875" stop-color="rgb(113,113,113)"/><stop offset="0.4940" stop-color="rgb(116,116,116)"/><stop offset="0.5005" stop-color="rgb(126,126,126)"/><stop offset="0.5060" stop-color="rgb(119,119,119)"/><stop offset="0.5070" stop-color="rgb(114,114,114)"/><stop offset="0.5135" stop-color="rgb(119,119,119)"/><stop offset="0.5200" stop-color="rgb(121,121,121)"/><stop offset="0.5265" stop-color="rgb(124,124,124)"/><stop offset="0.5330" stop-color="rgb(115,115,115)"/><stop offset="0.5395" stop-color="rgb(116,116,116)"/><stop offset="0.5460" stop-color="rgb(115,115,115)"/><stop offset="0.5525" stop-color="rgb(118,118,118)"/><stop offset="0.5580" stop-color="rgb(119,119,119)"/><stop offset="0.5590" stop-color="rgb(121,121,121)"/><stop offset="0.5655" stop-color="rgb(149,149,149)"/><stop offset="0.5694" stop-color="rgb(155,155,155)"/><stop offset="0.5720" stop-color="rgb(160,160,160)"/><stop offset="0.5785" stop-color="rgb(162,162,162)"/><stop offset="0.5850" stop-color="rgb(152,152,152)"/><stop offset="0.5905" stop-color="rgb(160,160,160)"/><stop offset="0.5915" stop-color="rgb(147,147,147)"/><stop offset="0.5970" stop-color="rgb(120,120,120)"/><stop offset="0.5980" stop-color="rgb(123,123,123)"/><stop offset="0.6045" stop-color="rgb(124,124,124)"/><stop offset="0.6110" stop-color="rgb(116,116,116)"/><stop offset="0.6175" stop-color="rgb(116,116,116)"/><stop offset="0.6230" stop-color="rgb(113,113,113)"/><stop offset="0.6240" stop-color="rgb(101,101,101)"/><stop offset="0.6295" stop-color="rgb(77,77,77)"/><stop offset="0.6305" stop-color="rgb(75,75,75)"/><stop offset="0.6370" stop-color="rgb(83,83,83)"/><stop offset="0.6435" stop-color="rgb(82,82,82)"/><stop offset="0.6500" stop-color="rgb(82,82,82)"/><stop offset="0.6506" stop-color="rgb(77,77,77)"/><stop offset="0.6565" stop-color="rgb(110,110,110)"/><stop offset="0.6588" stop-color="rgb(113,113,113)"/><stop offset="0.6630" stop-color="rgb(109,109,109)"/><stop offset="0.6695" stop-color="rgb(108,108,108)"/><stop offset="0.6750" stop-color="rgb(113,113,113)"/><stop offset="0.6760" stop-color="rgb(106,106,106)"/><stop offset="0.6815" stop-color="rgb(100,100,100)"/><stop offset="0.6825" stop-color="rgb(100,100,100)"/><stop offset="0.6890" stop-color="rgb(104,104,104)"/><stop offset="0.6955" stop-color="rgb(108,108,108)"/><stop offset="0.7010" stop-color="rgb(103,103,103)"/><stop offset="0.7020" stop-color="rgb(108,108,108)"/><stop offset="0.7085" stop-color="rgb(118,118,118)"/><stop offset="0.7108" stop-color="rgb(120,120,120)"/><stop offset="0.7150" stop-color="rgb(124,124,124)"/><stop offset="0.7215" stop-color="rgb(120,120,120)"/><stop offset="0.7280" stop-color="rgb(121,121,121)"/><stop offset="0.7345" stop-color="rgb(114,114,114)"/><stop offset="0.7410" stop-color="rgb(124,124,124)"/><stop offset="0.7475" stop-color="rgb(117,117,117)"/><stop offset="0.7540" stop-color="rgb(127,127,127)"/><stop offset="0.7605" stop-color="rgb(123,123,123)"/><stop offset="0.7670" stop-color="rgb(118,118,118)"/><stop offset="0.7725" stop-color="rgb(121,121,121)"/><stop offset="0.7735" stop-color="rgb(119,119,119)"/><stop offset="0.7800" stop-color="rgb(142,142,142)"/><stop offset="0.7823" stop-color="rgb(153,153,153)"/><stop offset="0.7865" stop-color="rgb(155,155,155)"/><stop offset="0.7930" stop-color="rgb(157,157,157)"/><stop offset="0.7995" stop-color="rgb(149,149,149)"/><stop offset="0.8060" stop-color="rgb(149,149,149)"/><stop offset="0.8083" stop-color="rgb(155,155,155)"/><stop offset="0.8125" stop-color="rgb(143,143,143)"/><stop offset="0.8180" stop-color="rgb(127,127,127)"/><stop offset="0.8190" stop-color="rgb(128,128,128)"/><stop offset="0.8255" stop-color="rgb(124,124,124)"/><stop offset="0.8320" stop-color="rgb(120,120,120)"/><stop offset="0.8375" stop-color="rgb(123,123,123)"/><stop offset="0.8385" stop-color="rgb(110,110,110)"/><stop offset="0.8427" stop-color="rgb(50,50,50)"/><stop offset="0.8450" stop-color="rgb(42,42,42)"/><stop offset="0.8515" stop-color="rgb(42,42,42)"/><stop offset="0.8570" stop-color="rgb(42,42,42)"/><stop offset="0.8580" stop-color="rgb(70,70,70)"/><stop offset="0.8619" stop-color="rgb(203,203,203)"/><stop offset="0.8645" stop-color="rgb(214,214,214)"/><stop offset="0.8710" stop-color="rgb(217,217,217)"/><stop offset="0.8733" stop-color="rgb(218,218,218)"/><stop offset="0.8775" stop-color="rgb(218,218,218)"/><stop offset="0.8830" stop-color="rgb(203,203,203)"/><stop offset="0.8840" stop-color="rgb(187,187,187)"/><stop offset="0.8879" stop-color="rgb(130,130,130)"/><stop offset="0.8905" stop-color="rgb(127,127,127)"/><stop offset="0.8970" stop-color="rgb(130,130,130)"/><stop offset="0.9025" stop-color="rgb(135,135,135)"/><stop offset="0.9035" stop-color="rgb(141,141,141)"/><stop offset="0.9100" stop-color="rgb(138,138,138)"/><stop offset="0.9165" stop-color="rgb(132,132,132)"/><stop offset="0.9230" stop-color="rgb(128,128,128)"/><stop offset="0.9295" stop-color="rgb(135,135,135)"/><stop offset="0.9360" stop-color="rgb(137,137,137)"/><stop offset="0.9425" stop-color="rgb(134,134,134)"/><stop offset="0.9490" stop-color="rgb(132,132,132)"/><stop offset="0.9555" stop-color="rgb(137,137,137)"/><stop offset="0.9620" stop-color="rgb(141,141,141)"/><stop offset="0.9685" stop-color="rgb(131,131,131)"/><stop offset="0.9750" stop-color="rgb(128,128,128)"/><stop offset="0.9815" stop-color="rgb(133,133,133)"/><stop offset="0.9880" stop-color="rgb(134,134,134)"/><stop offset="0.9945" stop-color="rgb(138,138,138)"/><stop offset="1.0000" stop-color="rgb(135,135,135)"/></linearGradient><linearGradient id="g17L" gradientUnits="userSpaceOnUse" x1="116.0" y1="0" x2="255.8" y2="0"><stop offset="0.0000" stop-color="rgb(135,135,135)"/><stop offset="0.0122" stop-color="rgb(130,130,130)"/><stop offset="0.0243" stop-color="rgb(140,140,140)"/><stop offset="0.0365" stop-color="rgb(139,139,139)"/><stop offset="0.0486" stop-color="rgb(135,135,135)"/><stop offset="0.0608" stop-color="rgb(130,130,130)"/><stop offset="0.0730" stop-color="rgb(143,143,143)"/><stop offset="0.0851" stop-color="rgb(132,132,132)"/><stop offset="0.0973" stop-color="rgb(140,140,140)"/><stop offset="0.1001" stop-color="rgb(135,135,135)"/><stop offset="0.1094" stop-color="rgb(124,124,124)"/><stop offset="0.1216" stop-color="rgb(114,114,114)"/><stop offset="0.1288" stop-color="rgb(113,113,113)"/><stop offset="0.1338" stop-color="rgb(117,117,117)"/><stop offset="0.1459" stop-color="rgb(109,109,109)"/><stop offset="0.1581" stop-color="rgb(119,119,119)"/><stop offset="0.1681" stop-color="rgb(111,111,111)"/><stop offset="0.1702" stop-color="rgb(130,130,130)"/><stop offset="0.1760" stop-color="rgb(180,180,180)"/><stop offset="0.1824" stop-color="rgb(184,184,184)"/><stop offset="0.1860" stop-color="rgb(195,195,195)"/><stop offset="0.1946" stop-color="rgb(189,189,189)"/><stop offset="0.2067" stop-color="rgb(191,191,191)"/><stop offset="0.2103" stop-color="rgb(192,192,192)"/><stop offset="0.2175" stop-color="rgb(155,155,155)"/><stop offset="0.2189" stop-color="rgb(154,154,154)"/><stop offset="0.2260" stop-color="rgb(135,135,135)"/><stop offset="0.2310" stop-color="rgb(73,73,73)"/><stop offset="0.2318" stop-color="rgb(58,58,58)"/><stop offset="0.2396" stop-color="rgb(30,30,30)"/><stop offset="0.2432" stop-color="rgb(24,24,24)"/><stop offset="0.2554" stop-color="rgb(27,27,27)"/><stop offset="0.2675" stop-color="rgb(24,24,24)"/><stop offset="0.2754" stop-color="rgb(28,28,28)"/><stop offset="0.2797" stop-color="rgb(52,52,52)"/><stop offset="0.2861" stop-color="rgb(67,67,67)"/><stop offset="0.2918" stop-color="rgb(75,75,75)"/><stop offset="0.3004" stop-color="rgb(105,105,105)"/><stop offset="0.3040" stop-color="rgb(101,101,101)"/><stop offset="0.3162" stop-color="rgb(112,112,112)"/><stop offset="0.3283" stop-color="rgb(128,128,128)"/><stop offset="0.3290" stop-color="rgb(130,130,130)"/><stop offset="0.3405" stop-color="rgb(138,138,138)"/><stop offset="0.3526" stop-color="rgb(140,140,140)"/><stop offset="0.3648" stop-color="rgb(140,140,140)"/><stop offset="0.3770" stop-color="rgb(146,146,146)"/><stop offset="0.3863" stop-color="rgb(140,140,140)"/><stop offset="0.3891" stop-color="rgb(147,147,147)"/><stop offset="0.4013" stop-color="rgb(137,137,137)"/><stop offset="0.4134" stop-color="rgb(135,135,135)"/><stop offset="0.4256" stop-color="rgb(147,147,147)"/><stop offset="0.4378" stop-color="rgb(144,144,144)"/><stop offset="0.4499" stop-color="rgb(133,133,133)"/><stop offset="0.4621" stop-color="rgb(143,143,143)"/><stop offset="0.4742" stop-color="rgb(139,139,139)"/><stop offset="0.4864" stop-color="rgb(139,139,139)"/><stop offset="0.4936" stop-color="rgb(141,141,141)"/><stop offset="0.4986" stop-color="rgb(134,134,134)"/><stop offset="0.5107" stop-color="rgb(122,122,122)"/><stop offset="0.5229" stop-color="rgb(110,110,110)"/><stop offset="0.5293" stop-color="rgb(113,113,113)"/><stop offset="0.5351" stop-color="rgb(106,106,106)"/><stop offset="0.5472" stop-color="rgb(101,101,101)"/><stop offset="0.5594" stop-color="rgb(104,104,104)"/><stop offset="0.5622" stop-color="rgb(95,95,95)"/><stop offset="0.5715" stop-color="rgb(89,89,89)"/><stop offset="0.5837" stop-color="rgb(102,102,102)"/><stop offset="0.5959" stop-color="rgb(90,90,90)"/><stop offset="0.6009" stop-color="rgb(95,95,95)"/><stop offset="0.6080" stop-color="rgb(123,123,123)"/><stop offset="0.6102" stop-color="rgb(135,135,135)"/><stop offset="0.6187" stop-color="rgb(163,163,163)"/><stop offset="0.6202" stop-color="rgb(168,168,168)"/><stop offset="0.6323" stop-color="rgb(168,168,168)"/><stop offset="0.6423" stop-color="rgb(163,163,163)"/><stop offset="0.6445" stop-color="rgb(158,158,158)"/><stop offset="0.6509" stop-color="rgb(147,147,147)"/><stop offset="0.6567" stop-color="rgb(140,140,140)"/><stop offset="0.6688" stop-color="rgb(146,146,146)"/><stop offset="0.6810" stop-color="rgb(144,144,144)"/><stop offset="0.6931" stop-color="rgb(152,152,152)"/><stop offset="0.7053" stop-color="rgb(140,140,140)"/><stop offset="0.7153" stop-color="rgb(145,145,145)"/><stop offset="0.7175" stop-color="rgb(145,145,145)"/><stop offset="0.7296" stop-color="rgb(157,157,157)"/><stop offset="0.7418" stop-color="rgb(164,164,164)"/><stop offset="0.7539" stop-color="rgb(150,150,150)"/><stop offset="0.7661" stop-color="rgb(157,157,157)"/><stop offset="0.7783" stop-color="rgb(164,164,164)"/><stop offset="0.7904" stop-color="rgb(164,164,164)"/><stop offset="0.8026" stop-color="rgb(152,152,152)"/><stop offset="0.8083" stop-color="rgb(160,160,160)"/><stop offset="0.8147" stop-color="rgb(147,147,147)"/><stop offset="0.8226" stop-color="rgb(147,147,147)"/><stop offset="0.8269" stop-color="rgb(140,140,140)"/><stop offset="0.8391" stop-color="rgb(153,153,153)"/><stop offset="0.8512" stop-color="rgb(142,142,142)"/><stop offset="0.8634" stop-color="rgb(150,150,150)"/><stop offset="0.8755" stop-color="rgb(152,152,152)"/><stop offset="0.8870" stop-color="rgb(145,145,145)"/><stop offset="0.8877" stop-color="rgb(142,142,142)"/><stop offset="0.8999" stop-color="rgb(141,141,141)"/><stop offset="0.9120" stop-color="rgb(152,152,152)"/><stop offset="0.9242" stop-color="rgb(147,147,147)"/><stop offset="0.9363" stop-color="rgb(141,141,141)"/><stop offset="0.9485" stop-color="rgb(148,148,148)"/><stop offset="0.9607" stop-color="rgb(142,142,142)"/><stop offset="0.9728" stop-color="rgb(141,141,141)"/><stop offset="0.9850" stop-color="rgb(137,137,137)"/><stop offset="0.9971" stop-color="rgb(149,149,149)"/><stop offset="1.0000" stop-color="rgb(145,145,145)"/></linearGradient><linearGradient id="g17R" gradientUnits="userSpaceOnUse" x1="284.3" y1="0" x2="592.0" y2="0"><stop offset="0.0000" stop-color="rgb(137,137,137)"/><stop offset="0.0065" stop-color="rgb(140,140,140)"/><stop offset="0.0130" stop-color="rgb(138,138,138)"/><stop offset="0.0195" stop-color="rgb(140,140,140)"/><stop offset="0.0260" stop-color="rgb(134,134,134)"/><stop offset="0.0325" stop-color="rgb(135,135,135)"/><stop offset="0.0390" stop-color="rgb(137,137,137)"/><stop offset="0.0455" stop-color="rgb(140,140,140)"/><stop offset="0.0510" stop-color="rgb(137,137,137)"/><stop offset="0.0520" stop-color="rgb(140,140,140)"/><stop offset="0.0585" stop-color="rgb(136,136,136)"/><stop offset="0.0650" stop-color="rgb(135,135,135)"/><stop offset="0.0715" stop-color="rgb(137,137,137)"/><stop offset="0.0780" stop-color="rgb(137,137,137)"/><stop offset="0.0845" stop-color="rgb(140,140,140)"/><stop offset="0.0910" stop-color="rgb(135,135,135)"/><stop offset="0.0975" stop-color="rgb(139,139,139)"/><stop offset="0.1040" stop-color="rgb(139,139,139)"/><stop offset="0.1105" stop-color="rgb(139,139,139)"/><stop offset="0.1170" stop-color="rgb(139,139,139)"/><stop offset="0.1235" stop-color="rgb(138,138,138)"/><stop offset="0.1300" stop-color="rgb(136,136,136)"/><stop offset="0.1365" stop-color="rgb(136,136,136)"/><stop offset="0.1430" stop-color="rgb(136,136,136)"/><stop offset="0.1485" stop-color="rgb(137,137,137)"/><stop offset="0.1495" stop-color="rgb(138,138,138)"/><stop offset="0.1560" stop-color="rgb(130,130,130)"/><stop offset="0.1625" stop-color="rgb(127,127,127)"/><stop offset="0.1664" stop-color="rgb(127,127,127)"/><stop offset="0.1690" stop-color="rgb(108,108,108)"/><stop offset="0.1729" stop-color="rgb(75,75,75)"/><stop offset="0.1755" stop-color="rgb(68,68,68)"/><stop offset="0.1810" stop-color="rgb(58,58,58)"/><stop offset="0.1820" stop-color="rgb(56,56,56)"/><stop offset="0.1885" stop-color="rgb(54,54,54)"/><stop offset="0.1950" stop-color="rgb(56,56,56)"/><stop offset="0.2005" stop-color="rgb(55,55,55)"/><stop offset="0.2015" stop-color="rgb(56,56,56)"/><stop offset="0.2080" stop-color="rgb(74,74,74)"/><stop offset="0.2090" stop-color="rgb(73,73,73)"/><stop offset="0.2135" stop-color="rgb(113,113,113)"/><stop offset="0.2145" stop-color="rgb(117,117,117)"/><stop offset="0.2210" stop-color="rgb(123,123,123)"/><stop offset="0.2275" stop-color="rgb(123,123,123)"/><stop offset="0.2298" stop-color="rgb(127,127,127)"/><stop offset="0.2340" stop-color="rgb(129,129,129)"/><stop offset="0.2405" stop-color="rgb(136,136,136)"/><stop offset="0.2460" stop-color="rgb(145,145,145)"/><stop offset="0.2470" stop-color="rgb(147,147,147)"/><stop offset="0.2535" stop-color="rgb(163,163,163)"/><stop offset="0.2558" stop-color="rgb(167,167,167)"/><stop offset="0.2600" stop-color="rgb(167,167,167)"/><stop offset="0.2665" stop-color="rgb(167,167,167)"/><stop offset="0.2730" stop-color="rgb(170,170,170)"/><stop offset="0.2795" stop-color="rgb(173,173,173)"/><stop offset="0.2850" stop-color="rgb(173,173,173)"/><stop offset="0.2860" stop-color="rgb(174,174,174)"/><stop offset="0.2925" stop-color="rgb(170,170,170)"/><stop offset="0.2980" stop-color="rgb(165,165,165)"/><stop offset="0.2990" stop-color="rgb(167,167,167)"/><stop offset="0.3055" stop-color="rgb(164,164,164)"/><stop offset="0.3120" stop-color="rgb(159,159,159)"/><stop offset="0.3185" stop-color="rgb(162,162,162)"/><stop offset="0.3250" stop-color="rgb(156,156,156)"/><stop offset="0.3273" stop-color="rgb(157,157,157)"/><stop offset="0.3315" stop-color="rgb(157,157,157)"/><stop offset="0.3380" stop-color="rgb(155,155,155)"/><stop offset="0.3445" stop-color="rgb(157,157,157)"/><stop offset="0.3510" stop-color="rgb(152,152,152)"/><stop offset="0.3575" stop-color="rgb(152,152,152)"/><stop offset="0.3640" stop-color="rgb(151,151,151)"/><stop offset="0.3705" stop-color="rgb(149,149,149)"/><stop offset="0.3760" stop-color="rgb(151,151,151)"/><stop offset="0.3770" stop-color="rgb(154,154,154)"/><stop offset="0.3835" stop-color="rgb(151,151,151)"/><stop offset="0.3900" stop-color="rgb(149,149,149)"/><stop offset="0.3965" stop-color="rgb(149,149,149)"/><stop offset="0.4030" stop-color="rgb(153,153,153)"/><stop offset="0.4095" stop-color="rgb(149,149,149)"/><stop offset="0.4160" stop-color="rgb(147,147,147)"/><stop offset="0.4225" stop-color="rgb(150,150,150)"/><stop offset="0.4290" stop-color="rgb(149,149,149)"/><stop offset="0.4355" stop-color="rgb(151,151,151)"/><stop offset="0.4420" stop-color="rgb(144,144,144)"/><stop offset="0.4485" stop-color="rgb(146,146,146)"/><stop offset="0.4550" stop-color="rgb(148,148,148)"/><stop offset="0.4615" stop-color="rgb(148,148,148)"/><stop offset="0.4680" stop-color="rgb(148,148,148)"/><stop offset="0.4745" stop-color="rgb(142,142,142)"/><stop offset="0.4810" stop-color="rgb(143,143,143)"/><stop offset="0.4875" stop-color="rgb(141,141,141)"/><stop offset="0.4940" stop-color="rgb(142,142,142)"/><stop offset="0.5005" stop-color="rgb(147,147,147)"/><stop offset="0.5060" stop-color="rgb(143,143,143)"/><stop offset="0.5070" stop-color="rgb(144,144,144)"/><stop offset="0.5135" stop-color="rgb(146,146,146)"/><stop offset="0.5200" stop-color="rgb(142,142,142)"/><stop offset="0.5265" stop-color="rgb(145,145,145)"/><stop offset="0.5330" stop-color="rgb(142,142,142)"/><stop offset="0.5395" stop-color="rgb(140,140,140)"/><stop offset="0.5460" stop-color="rgb(144,144,144)"/><stop offset="0.5525" stop-color="rgb(145,145,145)"/><stop offset="0.5590" stop-color="rgb(139,139,139)"/><stop offset="0.5655" stop-color="rgb(142,142,142)"/><stop offset="0.5710" stop-color="rgb(141,141,141)"/><stop offset="0.5720" stop-color="rgb(140,140,140)"/><stop offset="0.5785" stop-color="rgb(123,123,123)"/><stop offset="0.5808" stop-color="rgb(120,120,120)"/><stop offset="0.5850" stop-color="rgb(104,104,104)"/><stop offset="0.5905" stop-color="rgb(85,85,85)"/><stop offset="0.5915" stop-color="rgb(78,78,78)"/><stop offset="0.5970" stop-color="rgb(60,60,60)"/><stop offset="0.5980" stop-color="rgb(58,58,58)"/><stop offset="0.6045" stop-color="rgb(60,60,60)"/><stop offset="0.6110" stop-color="rgb(62,62,62)"/><stop offset="0.6165" stop-color="rgb(62,62,62)"/><stop offset="0.6175" stop-color="rgb(68,68,68)"/><stop offset="0.6230" stop-color="rgb(100,100,100)"/><stop offset="0.6240" stop-color="rgb(99,99,99)"/><stop offset="0.6305" stop-color="rgb(108,108,108)"/><stop offset="0.6360" stop-color="rgb(120,120,120)"/><stop offset="0.6370" stop-color="rgb(119,119,119)"/><stop offset="0.6435" stop-color="rgb(127,127,127)"/><stop offset="0.6500" stop-color="rgb(128,128,128)"/><stop offset="0.6565" stop-color="rgb(133,133,133)"/><stop offset="0.6630" stop-color="rgb(137,137,137)"/><stop offset="0.6685" stop-color="rgb(143,143,143)"/><stop offset="0.6695" stop-color="rgb(145,145,145)"/><stop offset="0.6760" stop-color="rgb(146,146,146)"/><stop offset="0.6825" stop-color="rgb(144,144,144)"/><stop offset="0.6890" stop-color="rgb(147,147,147)"/><stop offset="0.6955" stop-color="rgb(151,151,151)"/><stop offset="0.7010" stop-color="rgb(153,153,153)"/><stop offset="0.7020" stop-color="rgb(153,153,153)"/><stop offset="0.7085" stop-color="rgb(154,154,154)"/><stop offset="0.7150" stop-color="rgb(150,150,150)"/><stop offset="0.7215" stop-color="rgb(151,151,151)"/><stop offset="0.7280" stop-color="rgb(154,154,154)"/><stop offset="0.7345" stop-color="rgb(152,152,152)"/><stop offset="0.7410" stop-color="rgb(151,151,151)"/><stop offset="0.7465" stop-color="rgb(153,153,153)"/><stop offset="0.7475" stop-color="rgb(151,151,151)"/><stop offset="0.7540" stop-color="rgb(153,153,153)"/><stop offset="0.7605" stop-color="rgb(146,146,146)"/><stop offset="0.7660" stop-color="rgb(145,145,145)"/><stop offset="0.7670" stop-color="rgb(145,145,145)"/><stop offset="0.7735" stop-color="rgb(144,144,144)"/><stop offset="0.7800" stop-color="rgb(144,144,144)"/><stop offset="0.7865" stop-color="rgb(148,148,148)"/><stop offset="0.7930" stop-color="rgb(148,148,148)"/><stop offset="0.7995" stop-color="rgb(144,144,144)"/><stop offset="0.8060" stop-color="rgb(143,143,143)"/><stop offset="0.8125" stop-color="rgb(147,147,147)"/><stop offset="0.8190" stop-color="rgb(143,143,143)"/><stop offset="0.8255" stop-color="rgb(142,142,142)"/><stop offset="0.8320" stop-color="rgb(148,148,148)"/><stop offset="0.8385" stop-color="rgb(144,144,144)"/><stop offset="0.8450" stop-color="rgb(147,147,147)"/><stop offset="0.8473" stop-color="rgb(145,145,145)"/><stop offset="0.8515" stop-color="rgb(144,144,144)"/><stop offset="0.8580" stop-color="rgb(148,148,148)"/><stop offset="0.8603" stop-color="rgb(145,145,145)"/><stop offset="0.8645" stop-color="rgb(162,162,162)"/><stop offset="0.8651" stop-color="rgb(165,165,165)"/><stop offset="0.8710" stop-color="rgb(163,163,163)"/><stop offset="0.8775" stop-color="rgb(162,162,162)"/><stop offset="0.8830" stop-color="rgb(165,165,165)"/><stop offset="0.8840" stop-color="rgb(163,163,163)"/><stop offset="0.8895" stop-color="rgb(147,147,147)"/><stop offset="0.8905" stop-color="rgb(148,148,148)"/><stop offset="0.8970" stop-color="rgb(150,150,150)"/><stop offset="0.9035" stop-color="rgb(144,144,144)"/><stop offset="0.9100" stop-color="rgb(147,147,147)"/><stop offset="0.9165" stop-color="rgb(146,146,146)"/><stop offset="0.9230" stop-color="rgb(146,146,146)"/><stop offset="0.9295" stop-color="rgb(144,144,144)"/><stop offset="0.9360" stop-color="rgb(145,145,145)"/><stop offset="0.9425" stop-color="rgb(146,146,146)"/><stop offset="0.9490" stop-color="rgb(149,149,149)"/><stop offset="0.9555" stop-color="rgb(143,143,143)"/><stop offset="0.9620" stop-color="rgb(146,146,146)"/><stop offset="0.9685" stop-color="rgb(148,148,148)"/><stop offset="0.9750" stop-color="rgb(149,149,149)"/><stop offset="0.9815" stop-color="rgb(143,143,143)"/><stop offset="0.9880" stop-color="rgb(143,143,143)"/><stop offset="0.9945" stop-color="rgb(148,148,148)"/><stop offset="1.0000" stop-color="rgb(145,145,145)"/></linearGradient><linearGradient id="g16L" gradientUnits="userSpaceOnUse" x1="116.0" y1="0" x2="255.8" y2="0"><stop offset="0.0000" stop-color="rgb(137,137,137)"/><stop offset="0.0122" stop-color="rgb(145,145,145)"/><stop offset="0.0243" stop-color="rgb(137,137,137)"/><stop offset="0.0365" stop-color="rgb(130,130,130)"/><stop offset="0.0486" stop-color="rgb(144,144,144)"/><stop offset="0.0608" stop-color="rgb(135,135,135)"/><stop offset="0.0730" stop-color="rgb(143,143,143)"/><stop offset="0.0851" stop-color="rgb(139,139,139)"/><stop offset="0.0973" stop-color="rgb(142,142,142)"/><stop offset="0.1001" stop-color="rgb(137,137,137)"/><stop offset="0.1094" stop-color="rgb(132,132,132)"/><stop offset="0.1216" stop-color="rgb(142,142,142)"/><stop offset="0.1338" stop-color="rgb(133,133,133)"/><stop offset="0.1431" stop-color="rgb(137,137,137)"/><stop offset="0.1459" stop-color="rgb(137,137,137)"/><stop offset="0.1581" stop-color="rgb(149,149,149)"/><stop offset="0.1631" stop-color="rgb(145,145,145)"/><stop offset="0.1702" stop-color="rgb(206,206,206)"/><stop offset="0.1717" stop-color="rgb(212,212,212)"/><stop offset="0.1824" stop-color="rgb(238,238,238)"/><stop offset="0.1946" stop-color="rgb(232,232,232)"/><stop offset="0.2067" stop-color="rgb(232,232,232)"/><stop offset="0.2074" stop-color="rgb(236,236,236)"/><stop offset="0.2182" stop-color="rgb(198,198,198)"/><stop offset="0.2189" stop-color="rgb(189,189,189)"/><stop offset="0.2253" stop-color="rgb(135,135,135)"/><stop offset="0.2310" stop-color="rgb(69,69,69)"/><stop offset="0.2325" stop-color="rgb(54,54,54)"/><stop offset="0.2432" stop-color="rgb(32,32,32)"/><stop offset="0.2554" stop-color="rgb(30,30,30)"/><stop offset="0.2647" stop-color="rgb(32,32,32)"/><stop offset="0.2675" stop-color="rgb(35,35,35)"/><stop offset="0.2740" stop-color="rgb(58,58,58)"/><stop offset="0.2797" stop-color="rgb(71,71,71)"/><stop offset="0.2861" stop-color="rgb(95,95,95)"/><stop offset="0.2918" stop-color="rgb(104,104,104)"/><stop offset="0.3040" stop-color="rgb(117,117,117)"/><stop offset="0.3147" stop-color="rgb(120,120,120)"/><stop offset="0.3162" stop-color="rgb(113,113,113)"/><stop offset="0.3283" stop-color="rgb(125,125,125)"/><stop offset="0.3405" stop-color="rgb(131,131,131)"/><stop offset="0.3526" stop-color="rgb(123,123,123)"/><stop offset="0.3648" stop-color="rgb(139,139,139)"/><stop offset="0.3770" stop-color="rgb(131,131,131)"/><stop offset="0.3863" stop-color="rgb(140,140,140)"/><stop offset="0.3891" stop-color="rgb(142,142,142)"/><stop offset="0.4013" stop-color="rgb(141,141,141)"/><stop offset="0.4134" stop-color="rgb(142,142,142)"/><stop offset="0.4256" stop-color="rgb(137,137,137)"/><stop offset="0.4378" stop-color="rgb(139,139,139)"/><stop offset="0.4499" stop-color="rgb(142,142,142)"/><stop offset="0.4621" stop-color="rgb(139,139,139)"/><stop offset="0.4742" stop-color="rgb(143,143,143)"/><stop offset="0.4864" stop-color="rgb(140,140,140)"/><stop offset="0.4986" stop-color="rgb(140,140,140)"/><stop offset="0.5107" stop-color="rgb(133,133,133)"/><stop offset="0.5229" stop-color="rgb(143,143,143)"/><stop offset="0.5293" stop-color="rgb(141,141,141)"/><stop offset="0.5351" stop-color="rgb(141,141,141)"/><stop offset="0.5472" stop-color="rgb(137,137,137)"/><stop offset="0.5594" stop-color="rgb(146,146,146)"/><stop offset="0.5715" stop-color="rgb(147,147,147)"/><stop offset="0.5837" stop-color="rgb(142,142,142)"/><stop offset="0.5866" stop-color="rgb(143,143,143)"/><stop offset="0.5959" stop-color="rgb(150,150,150)"/><stop offset="0.6044" stop-color="rgb(167,167,167)"/><stop offset="0.6080" stop-color="rgb(166,166,166)"/><stop offset="0.6202" stop-color="rgb(160,160,160)"/><stop offset="0.6323" stop-color="rgb(165,165,165)"/><stop offset="0.6438" stop-color="rgb(145,145,145)"/><stop offset="0.6445" stop-color="rgb(139,139,139)"/><stop offset="0.6567" stop-color="rgb(144,144,144)"/><stop offset="0.6688" stop-color="rgb(138,138,138)"/><stop offset="0.6810" stop-color="rgb(144,144,144)"/><stop offset="0.6931" stop-color="rgb(145,145,145)"/><stop offset="0.7053" stop-color="rgb(137,137,137)"/><stop offset="0.7175" stop-color="rgb(147,147,147)"/><stop offset="0.7296" stop-color="rgb(138,138,138)"/><stop offset="0.7418" stop-color="rgb(148,148,148)"/><stop offset="0.7539" stop-color="rgb(149,149,149)"/><stop offset="0.7661" stop-color="rgb(144,144,144)"/><stop offset="0.7783" stop-color="rgb(137,137,137)"/><stop offset="0.7904" stop-color="rgb(144,144,144)"/><stop offset="0.8026" stop-color="rgb(142,142,142)"/><stop offset="0.8147" stop-color="rgb(151,151,151)"/><stop offset="0.8269" stop-color="rgb(138,138,138)"/><stop offset="0.8391" stop-color="rgb(150,150,150)"/><stop offset="0.8512" stop-color="rgb(152,152,152)"/><stop offset="0.8634" stop-color="rgb(147,147,147)"/><stop offset="0.8755" stop-color="rgb(149,149,149)"/><stop offset="0.8877" stop-color="rgb(139,139,139)"/><stop offset="0.8999" stop-color="rgb(151,151,151)"/><stop offset="0.9120" stop-color="rgb(143,143,143)"/><stop offset="0.9242" stop-color="rgb(151,151,151)"/><stop offset="0.9363" stop-color="rgb(150,150,150)"/><stop offset="0.9485" stop-color="rgb(138,138,138)"/><stop offset="0.9607" stop-color="rgb(148,148,148)"/><stop offset="0.9728" stop-color="rgb(150,150,150)"/><stop offset="0.9850" stop-color="rgb(136,136,136)"/><stop offset="0.9971" stop-color="rgb(141,141,141)"/><stop offset="1.0000" stop-color="rgb(143,143,143)"/></linearGradient><linearGradient id="g16R" gradientUnits="userSpaceOnUse" x1="284.3" y1="0" x2="592.0" y2="0"><stop offset="0.0000" stop-color="rgb(145,145,145)"/><stop offset="0.0055" stop-color="rgb(143,143,143)"/><stop offset="0.0065" stop-color="rgb(141,141,141)"/><stop offset="0.0130" stop-color="rgb(146,146,146)"/><stop offset="0.0195" stop-color="rgb(141,141,141)"/><stop offset="0.0260" stop-color="rgb(145,145,145)"/><stop offset="0.0325" stop-color="rgb(141,141,141)"/><stop offset="0.0390" stop-color="rgb(143,143,143)"/><stop offset="0.0455" stop-color="rgb(146,146,146)"/><stop offset="0.0520" stop-color="rgb(141,141,141)"/><stop offset="0.0585" stop-color="rgb(141,141,141)"/><stop offset="0.0650" stop-color="rgb(143,143,143)"/><stop offset="0.0715" stop-color="rgb(142,142,142)"/><stop offset="0.0780" stop-color="rgb(140,140,140)"/><stop offset="0.0845" stop-color="rgb(141,141,141)"/><stop offset="0.0910" stop-color="rgb(141,141,141)"/><stop offset="0.0975" stop-color="rgb(146,146,146)"/><stop offset="0.1040" stop-color="rgb(144,144,144)"/><stop offset="0.1105" stop-color="rgb(146,146,146)"/><stop offset="0.1160" stop-color="rgb(143,143,143)"/><stop offset="0.1170" stop-color="rgb(141,141,141)"/><stop offset="0.1235" stop-color="rgb(144,144,144)"/><stop offset="0.1300" stop-color="rgb(139,139,139)"/><stop offset="0.1365" stop-color="rgb(141,141,141)"/><stop offset="0.1430" stop-color="rgb(141,141,141)"/><stop offset="0.1495" stop-color="rgb(139,139,139)"/><stop offset="0.1560" stop-color="rgb(142,142,142)"/><stop offset="0.1583" stop-color="rgb(139,139,139)"/><stop offset="0.1625" stop-color="rgb(136,136,136)"/><stop offset="0.1690" stop-color="rgb(132,132,132)"/><stop offset="0.1703" stop-color="rgb(130,130,130)"/><stop offset="0.1755" stop-color="rgb(131,131,131)"/><stop offset="0.1820" stop-color="rgb(124,124,124)"/><stop offset="0.1885" stop-color="rgb(129,129,129)"/><stop offset="0.1908" stop-color="rgb(125,125,125)"/><stop offset="0.1950" stop-color="rgb(161,161,161)"/><stop offset="0.1956" stop-color="rgb(165,165,165)"/><stop offset="0.2015" stop-color="rgb(174,174,174)"/><stop offset="0.2038" stop-color="rgb(179,179,179)"/><stop offset="0.2080" stop-color="rgb(180,180,180)"/><stop offset="0.2145" stop-color="rgb(174,174,174)"/><stop offset="0.2168" stop-color="rgb(175,175,175)"/><stop offset="0.2210" stop-color="rgb(156,156,156)"/><stop offset="0.2216" stop-color="rgb(149,149,149)"/><stop offset="0.2275" stop-color="rgb(147,147,147)"/><stop offset="0.2340" stop-color="rgb(143,143,143)"/><stop offset="0.2379" stop-color="rgb(143,143,143)"/><stop offset="0.2405" stop-color="rgb(116,116,116)"/><stop offset="0.2418" stop-color="rgb(100,100,100)"/><stop offset="0.2460" stop-color="rgb(80,80,80)"/><stop offset="0.2470" stop-color="rgb(80,80,80)"/><stop offset="0.2525" stop-color="rgb(80,80,80)"/><stop offset="0.2535" stop-color="rgb(87,87,87)"/><stop offset="0.2564" stop-color="rgb(117,117,117)"/><stop offset="0.2600" stop-color="rgb(120,120,120)"/><stop offset="0.2665" stop-color="rgb(118,118,118)"/><stop offset="0.2730" stop-color="rgb(127,127,127)"/><stop offset="0.2785" stop-color="rgb(127,127,127)"/><stop offset="0.2795" stop-color="rgb(129,129,129)"/><stop offset="0.2850" stop-color="rgb(155,155,155)"/><stop offset="0.2860" stop-color="rgb(156,156,156)"/><stop offset="0.2925" stop-color="rgb(161,161,161)"/><stop offset="0.2990" stop-color="rgb(160,160,160)"/><stop offset="0.3045" stop-color="rgb(161,161,161)"/><stop offset="0.3055" stop-color="rgb(160,160,160)"/><stop offset="0.3110" stop-color="rgb(149,149,149)"/><stop offset="0.3120" stop-color="rgb(148,148,148)"/><stop offset="0.3185" stop-color="rgb(145,145,145)"/><stop offset="0.3250" stop-color="rgb(144,144,144)"/><stop offset="0.3315" stop-color="rgb(144,144,144)"/><stop offset="0.3380" stop-color="rgb(146,146,146)"/><stop offset="0.3435" stop-color="rgb(145,145,145)"/><stop offset="0.3445" stop-color="rgb(145,145,145)"/><stop offset="0.3510" stop-color="rgb(145,145,145)"/><stop offset="0.3575" stop-color="rgb(148,148,148)"/><stop offset="0.3640" stop-color="rgb(142,142,142)"/><stop offset="0.3705" stop-color="rgb(143,143,143)"/><stop offset="0.3770" stop-color="rgb(146,146,146)"/><stop offset="0.3835" stop-color="rgb(142,142,142)"/><stop offset="0.3900" stop-color="rgb(142,142,142)"/><stop offset="0.3965" stop-color="rgb(144,144,144)"/><stop offset="0.4030" stop-color="rgb(142,142,142)"/><stop offset="0.4095" stop-color="rgb(144,144,144)"/><stop offset="0.4160" stop-color="rgb(143,143,143)"/><stop offset="0.4225" stop-color="rgb(146,146,146)"/><stop offset="0.4290" stop-color="rgb(146,146,146)"/><stop offset="0.4355" stop-color="rgb(143,143,143)"/><stop offset="0.4420" stop-color="rgb(146,146,146)"/><stop offset="0.4485" stop-color="rgb(145,145,145)"/><stop offset="0.4550" stop-color="rgb(142,142,142)"/><stop offset="0.4615" stop-color="rgb(148,148,148)"/><stop offset="0.4680" stop-color="rgb(143,143,143)"/><stop offset="0.4745" stop-color="rgb(143,143,143)"/><stop offset="0.4810" stop-color="rgb(142,142,142)"/><stop offset="0.4875" stop-color="rgb(146,146,146)"/><stop offset="0.4940" stop-color="rgb(148,148,148)"/><stop offset="0.5005" stop-color="rgb(147,147,147)"/><stop offset="0.5060" stop-color="rgb(145,145,145)"/><stop offset="0.5070" stop-color="rgb(144,144,144)"/><stop offset="0.5135" stop-color="rgb(142,142,142)"/><stop offset="0.5200" stop-color="rgb(139,139,139)"/><stop offset="0.5265" stop-color="rgb(143,143,143)"/><stop offset="0.5330" stop-color="rgb(141,141,141)"/><stop offset="0.5395" stop-color="rgb(138,138,138)"/><stop offset="0.5460" stop-color="rgb(139,139,139)"/><stop offset="0.5525" stop-color="rgb(137,137,137)"/><stop offset="0.5590" stop-color="rgb(139,139,139)"/><stop offset="0.5655" stop-color="rgb(137,137,137)"/><stop offset="0.5720" stop-color="rgb(132,132,132)"/><stop offset="0.5785" stop-color="rgb(136,136,136)"/><stop offset="0.5850" stop-color="rgb(129,129,129)"/><stop offset="0.5905" stop-color="rgb(131,131,131)"/><stop offset="0.5915" stop-color="rgb(133,133,133)"/><stop offset="0.5980" stop-color="rgb(145,145,145)"/><stop offset="0.6045" stop-color="rgb(157,157,157)"/><stop offset="0.6068" stop-color="rgb(163,163,163)"/><stop offset="0.6110" stop-color="rgb(160,160,160)"/><stop offset="0.6175" stop-color="rgb(165,165,165)"/><stop offset="0.6240" stop-color="rgb(160,160,160)"/><stop offset="0.6295" stop-color="rgb(163,163,163)"/><stop offset="0.6305" stop-color="rgb(160,160,160)"/><stop offset="0.6360" stop-color="rgb(143,143,143)"/><stop offset="0.6370" stop-color="rgb(146,146,146)"/><stop offset="0.6435" stop-color="rgb(141,141,141)"/><stop offset="0.6500" stop-color="rgb(142,142,142)"/><stop offset="0.6565" stop-color="rgb(145,145,145)"/><stop offset="0.6630" stop-color="rgb(145,145,145)"/><stop offset="0.6695" stop-color="rgb(146,146,146)"/><stop offset="0.6760" stop-color="rgb(148,148,148)"/><stop offset="0.6825" stop-color="rgb(144,144,144)"/><stop offset="0.6890" stop-color="rgb(145,145,145)"/><stop offset="0.6955" stop-color="rgb(145,145,145)"/><stop offset="0.7010" stop-color="rgb(147,147,147)"/><stop offset="0.7020" stop-color="rgb(144,144,144)"/><stop offset="0.7085" stop-color="rgb(150,150,150)"/><stop offset="0.7150" stop-color="rgb(149,149,149)"/><stop offset="0.7215" stop-color="rgb(148,148,148)"/><stop offset="0.7280" stop-color="rgb(143,143,143)"/><stop offset="0.7345" stop-color="rgb(149,149,149)"/><stop offset="0.7410" stop-color="rgb(148,148,148)"/><stop offset="0.7475" stop-color="rgb(146,146,146)"/><stop offset="0.7540" stop-color="rgb(148,148,148)"/><stop offset="0.7605" stop-color="rgb(146,146,146)"/><stop offset="0.7670" stop-color="rgb(144,144,144)"/><stop offset="0.7735" stop-color="rgb(143,143,143)"/><stop offset="0.7800" stop-color="rgb(144,144,144)"/><stop offset="0.7865" stop-color="rgb(142,142,142)"/><stop offset="0.7930" stop-color="rgb(144,144,144)"/><stop offset="0.7995" stop-color="rgb(147,147,147)"/><stop offset="0.8060" stop-color="rgb(147,147,147)"/><stop offset="0.8125" stop-color="rgb(148,148,148)"/><stop offset="0.8190" stop-color="rgb(147,147,147)"/><stop offset="0.8255" stop-color="rgb(143,143,143)"/><stop offset="0.8310" stop-color="rgb(145,145,145)"/><stop offset="0.8320" stop-color="rgb(144,144,144)"/><stop offset="0.8375" stop-color="rgb(137,137,137)"/><stop offset="0.8385" stop-color="rgb(137,137,137)"/><stop offset="0.8450" stop-color="rgb(139,139,139)"/><stop offset="0.8515" stop-color="rgb(137,137,137)"/><stop offset="0.8538" stop-color="rgb(137,137,137)"/><stop offset="0.8580" stop-color="rgb(146,146,146)"/><stop offset="0.8603" stop-color="rgb(153,153,153)"/><stop offset="0.8645" stop-color="rgb(154,154,154)"/><stop offset="0.8710" stop-color="rgb(157,157,157)"/><stop offset="0.8775" stop-color="rgb(153,153,153)"/><stop offset="0.8798" stop-color="rgb(155,155,155)"/><stop offset="0.8840" stop-color="rgb(155,155,155)"/><stop offset="0.8905" stop-color="rgb(145,145,145)"/><stop offset="0.8960" stop-color="rgb(145,145,145)"/><stop offset="0.8970" stop-color="rgb(143,143,143)"/><stop offset="0.9035" stop-color="rgb(143,143,143)"/><stop offset="0.9100" stop-color="rgb(147,147,147)"/><stop offset="0.9165" stop-color="rgb(148,148,148)"/><stop offset="0.9230" stop-color="rgb(147,147,147)"/><stop offset="0.9295" stop-color="rgb(144,144,144)"/><stop offset="0.9360" stop-color="rgb(148,148,148)"/><stop offset="0.9425" stop-color="rgb(144,144,144)"/><stop offset="0.9490" stop-color="rgb(143,143,143)"/><stop offset="0.9555" stop-color="rgb(148,148,148)"/><stop offset="0.9620" stop-color="rgb(146,146,146)"/><stop offset="0.9685" stop-color="rgb(146,146,146)"/><stop offset="0.9750" stop-color="rgb(146,146,146)"/><stop offset="0.9815" stop-color="rgb(148,148,148)"/><stop offset="0.9880" stop-color="rgb(145,145,145)"/><stop offset="0.9945" stop-color="rgb(147,147,147)"/><stop offset="1.0000" stop-color="rgb(145,145,145)"/></linearGradient></defs>
<rect width="652" height="371" fill="#fff"/>
<rect x="116.0" y="26.2" width="139.8" height="16.50" fill="url(#g20L)"/>
<rect x="255.8" y="26.2" width="1.8" height="16.50" fill="#000"/>
<rect x="284.3" y="26.2" width="307.7" height="16.50" fill="url(#g20R)"/>
<rect x="592.0" y="26.2" width="2.8" height="16.50" fill="#000"/>
<rect x="116.0" y="26.20" width="139.80" height="1.00" fill="#fff" fill-opacity="0.020"/>
<rect x="284.3" y="26.20" width="307.70" height="1.00" fill="#fff" fill-opacity="0.018"/>
<rect x="116.0" y="27.20" width="139.80" height="1.00" fill="#000" fill-opacity="0.006"/>
<rect x="284.3" y="27.20" width="307.70" height="1.00" fill="#fff" fill-opacity="0.011"/>
<rect x="116.0" y="28.20" width="139.80" height="1.00" fill="#fff" fill-opacity="0.007"/>
<rect x="284.3" y="28.20" width="307.70" height="1.00" fill="#000" fill-opacity="0.010"/>
<rect x="116.0" y="29.20" width="139.80" height="1.00" fill="#000" fill-opacity="0.029"/>
<rect x="284.3" y="29.20" width="307.70" height="1.00" fill="#fff" fill-opacity="0.006"/>
<rect x="116.0" y="30.20" width="139.80" height="1.00" fill="#000" fill-opacity="0.042"/>
<rect x="284.3" y="30.20" width="307.70" height="1.00" fill="#fff" fill-opacity="0.021"/>
<rect x="116.0" y="31.20" width="139.80" height="1.00" fill="#000" fill-opacity="0.036"/>
<rect x="284.3" y="31.20" width="307.70" height="1.00" fill="#000" fill-opacity="0.024"/>
<rect x="116.0" y="32.20" width="139.80" height="1.00" fill="#000" fill-opacity="0.039"/>
<rect x="284.3" y="32.20" width="307.70" height="1.00" fill="#fff" fill-opacity="0.021"/>
<rect x="116.0" y="33.20" width="139.80" height="1.00" fill="#000" fill-opacity="0.016"/>
<rect x="284.3" y="33.20" width="307.70" height="1.00" fill="#000" fill-opacity="0.018"/>
<rect x="116.0" y="34.20" width="139.80" height="1.00" fill="#000" fill-opacity="0.047"/>
<rect x="284.3" y="34.20" width="307.70" height="1.00" fill="#000" fill-opacity="0.023"/>
<rect x="116.0" y="35.20" width="139.80" height="1.00" fill="#fff" fill-opacity="0.019"/>
<rect x="284.3" y="35.20" width="307.70" height="1.00" fill="#fff" fill-opacity="0.007"/>
<rect x="116.0" y="36.20" width="139.80" height="1.00" fill="#fff" fill-opacity="0.020"/>
<rect x="284.3" y="36.20" width="307.70" height="1.00" fill="#fff" fill-opacity="0.012"/>
<rect x="116.0" y="37.20" width="139.80" height="1.00" fill="#000" fill-opacity="0.043"/>
<rect x="284.3" y="37.20" width="307.70" height="1.00" fill="#fff" fill-opacity="0.005"/>
<rect x="116.0" y="38.20" width="139.80" height="1.00" fill="#000" fill-opacity="0.014"/>
<rect x="284.3" y="38.20" width="307.70" height="1.00" fill="#fff" fill-opacity="0.016"/>
<rect x="116.0" y="39.20" width="139.80" height="1.00" fill="#fff" fill-opacity="0.032"/>
<rect x="284.3" y="39.20" width="307.70" height="1.00" fill="#fff" fill-opacity="0.020"/>
<rect x="116.0" y="40.20" width="139.80" height="1.00" fill="#000" fill-opacity="0.043"/>
<rect x="284.3" y="40.20" width="307.70" height="1.00" fill="#fff" fill-opacity="0.018"/>
<rect x="116.0" y="41.20" width="139.80" height="1.00" fill="#fff" fill-opacity="0.041"/>
<rect x="284.3" y="41.20" width="307.70" height="1.00" fill="#fff" fill-opacity="0.022"/>
<rect x="116.0" y="42.20" width="139.80" height="0.50" fill="#000" fill-opacity="0.039"/>
<rect x="284.3" y="42.20" width="307.70" height="0.50" fill="#000" fill-opacity="0.015"/>
<rect x="116.0" y="74.8" width="139.8" height="26.70" fill="url(#g19L)"/>
<rect x="255.8" y="74.8" width="1.8" height="26.70" fill="#000"/>
<rect x="284.3" y="74.8" width="307.7" height="26.70" fill="url(#g19R)"/>
<rect x="592.0" y="74.8" width="2.8" height="26.70" fill="#000"/>
<rect x="116.0" y="74.80" width="139.80" height="1.00" fill="#000" fill-opacity="0.039"/>
<rect x="286.5" y="74.80" width="305.50" height="1.00" fill="#000" fill-opacity="0.023"/>
<rect x="116.0" y="75.80" width="139.80" height="1.00" fill="#fff" fill-opacity="0.035"/>
<rect x="286.5" y="75.80" width="305.50" height="1.00" fill="#fff" fill-opacity="0.016"/>
<rect x="116.0" y="76.80" width="139.80" height="1.00" fill="#fff" fill-opacity="0.013"/>
<rect x="286.5" y="76.80" width="305.50" height="1.00" fill="#fff" fill-opacity="0.016"/>
<rect x="116.0" y="77.80" width="139.80" height="1.00" fill="#fff" fill-opacity="0.013"/>
<rect x="286.5" y="77.80" width="305.50" height="1.00" fill="#000" fill-opacity="0.011"/>
<rect x="116.0" y="78.80" width="139.80" height="1.00" fill="#000" fill-opacity="0.040"/>
<rect x="286.5" y="78.80" width="305.50" height="1.00" fill="#000" fill-opacity="0.020"/>
<rect x="116.0" y="79.80" width="139.80" height="1.00" fill="#fff" fill-opacity="0.026"/>
<rect x="286.5" y="79.80" width="305.50" height="1.00" fill="#000" fill-opacity="0.015"/>
<rect x="116.0" y="80.80" width="139.80" height="1.00" fill="#000" fill-opacity="0.018"/>
<rect x="286.5" y="80.80" width="305.50" height="1.00" fill="#000" fill-opacity="0.004"/>
<rect x="116.0" y="81.80" width="139.80" height="1.00" fill="#000" fill-opacity="0.048"/>
<rect x="286.5" y="81.80" width="305.50" height="1.00" fill="#000" fill-opacity="0.012"/>
<rect x="116.0" y="82.80" width="139.80" height="1.00" fill="#000" fill-opacity="0.022"/>
<rect x="286.5" y="82.80" width="305.50" height="1.00" fill="#fff" fill-opacity="0.011"/>
<rect x="116.0" y="83.80" width="139.80" height="1.00" fill="#000" fill-opacity="0.013"/>
<rect x="286.5" y="83.80" width="305.50" height="1.00" fill="#000" fill-opacity="0.009"/>
<rect x="116.0" y="84.80" width="139.80" height="1.00" fill="#fff" fill-opacity="0.046"/>
<rect x="286.5" y="84.80" width="305.50" height="1.00" fill="#fff" fill-opacity="0.000"/>
<rect x="116.0" y="85.80" width="139.80" height="1.00" fill="#fff" fill-opacity="0.035"/>
<rect x="286.5" y="85.80" width="305.50" height="1.00" fill="#fff" fill-opacity="0.006"/>
<rect x="116.0" y="86.80" width="139.80" height="1.00" fill="#000" fill-opacity="0.047"/>
<rect x="286.5" y="86.80" width="305.50" height="1.00" fill="#000" fill-opacity="0.004"/>
<rect x="116.0" y="87.80" width="139.80" height="1.00" fill="#000" fill-opacity="0.006"/>
<rect x="286.5" y="87.80" width="305.50" height="1.00" fill="#fff" fill-opacity="0.014"/>
<rect x="116.0" y="88.80" width="139.80" height="1.00" fill="#000" fill-opacity="0.015"/>
<rect x="286.5" y="88.80" width="305.50" height="1.00" fill="#fff" fill-opacity="0.010"/>
<rect x="116.0" y="89.80" width="139.80" height="1.00" fill="#fff" fill-opacity="0.004"/>
<rect x="286.5" y="89.80" width="305.50" height="1.00" fill="#000" fill-opacity="0.014"/>
<rect x="116.0" y="90.80" width="139.80" height="1.00" fill="#fff" fill-opacity="0.036"/>
<rect x="286.5" y="90.80" width="305.50" height="1.00" fill="#000" fill-opacity="0.020"/>
<rect x="116.0" y="91.80" width="139.80" height="1.00" fill="#fff" fill-opacity="0.032"/>
<rect x="286.5" y="91.80" width="305.50" height="1.00" fill="#000" fill-opacity="0.016"/>
<rect x="116.0" y="92.80" width="139.80" height="1.00" fill="#000" fill-opacity="0.050"/>
<rect x="286.5" y="92.80" width="305.50" height="1.00" fill="#000" fill-opacity="0.015"/>
<rect x="116.0" y="93.80" width="139.80" height="1.00" fill="#fff" fill-opacity="0.026"/>
<rect x="286.5" y="93.80" width="305.50" height="1.00" fill="#fff" fill-opacity="0.024"/>
<rect x="116.0" y="94.80" width="139.80" height="1.00" fill="#000" fill-opacity="0.050"/>
<rect x="286.5" y="94.80" width="305.50" height="1.00" fill="#000" fill-opacity="0.000"/>
<rect x="116.0" y="95.80" width="139.80" height="1.00" fill="#000" fill-opacity="0.001"/>
<rect x="286.5" y="95.80" width="305.50" height="1.00" fill="#fff" fill-opacity="0.015"/>
<rect x="116.0" y="96.80" width="139.80" height="1.00" fill="#000" fill-opacity="0.032"/>
<rect x="286.5" y="96.80" width="305.50" height="1.00" fill="#000" fill-opacity="0.000"/>
<rect x="116.0" y="97.80" width="139.80" height="1.00" fill="#000" fill-opacity="0.015"/>
<rect x="286.5" y="97.80" width="305.50" height="1.00" fill="#fff" fill-opacity="0.017"/>
<rect x="116.0" y="98.80" width="139.80" height="1.00" fill="#000" fill-opacity="0.024"/>
<rect x="286.5" y="98.80" width="305.50" height="1.00" fill="#fff" fill-opacity="0.022"/>
<rect x="116.0" y="99.80" width="139.80" height="1.00" fill="#000" fill-opacity="0.022"/>
<rect x="286.5" y="99.80" width="305.50" height="1.00" fill="#000" fill-opacity="0.014"/>
<rect x="116.0" y="100.80" width="139.80" height="0.70" fill="#fff" fill-opacity="0.020"/>
<rect x="286.5" y="100.80" width="305.50" height="0.70" fill="#000" fill-opacity="0.000"/>
<rect x="115.2" y="74.8" width="1.6" height="26.70" fill="#222"/>
<rect x="283.7" y="74.8" width="2.8" height="26.70" fill="#000"/>
<rect x="116.0" y="84.5" width="141.60000000000002" height="3" fill="#000"/>
<rect x="284.3" y="84.3" width="310.7" height="3" fill="#000"/>
<rect x="116.0" y="124.0" width="139.8" height="20.70" fill="url(#g18L)"/>
<rect x="255.8" y="124.0" width="1.8" height="20.70" fill="#000"/>
<rect x="284.3" y="124.0" width="307.7" height="20.70" fill="url(#g18R)"/>
<rect x="592.0" y="124.0" width="2.8" height="20.70" fill="#000"/>
<rect x="116.0" y="124.00" width="139.80" height="1.00" fill="#000" fill-opacity="0.039"/>
<rect x="286.5" y="124.00" width="305.50" height="1.00" fill="#fff" fill-opacity="0.014"/>
<rect x="116.0" y="125.00" width="139.80" height="1.00" fill="#000" fill-opacity="0.042"/>
<rect x="286.5" y="125.00" width="305.50" height="1.00" fill="#fff" fill-opacity="0.029"/>
<rect x="116.0" y="126.00" width="139.80" height="1.00" fill="#fff" fill-opacity="0.020"/>
<rect x="286.5" y="126.00" width="305.50" height="1.00" fill="#fff" fill-opacity="0.029"/>
<rect x="116.0" y="127.00" width="139.80" height="1.00" fill="#fff" fill-opacity="0.013"/>
<rect x="286.5" y="127.00" width="305.50" height="1.00" fill="#000" fill-opacity="0.014"/>
<rect x="116.0" y="128.00" width="139.80" height="1.00" fill="#000" fill-opacity="0.010"/>
<rect x="286.5" y="128.00" width="305.50" height="1.00" fill="#000" fill-opacity="0.011"/>
<rect x="116.0" y="129.00" width="139.80" height="1.00" fill="#fff" fill-opacity="0.039"/>
<rect x="286.5" y="129.00" width="305.50" height="1.00" fill="#000" fill-opacity="0.041"/>
<rect x="116.0" y="130.00" width="139.80" height="1.00" fill="#fff" fill-opacity="0.039"/>
<rect x="286.5" y="130.00" width="305.50" height="1.00" fill="#000" fill-opacity="0.047"/>
<rect x="116.0" y="131.00" width="139.80" height="1.00" fill="#000" fill-opacity="0.029"/>
<rect x="286.5" y="131.00" width="305.50" height="1.00" fill="#000" fill-opacity="0.024"/>
<rect x="116.0" y="132.00" width="139.80" height="1.00" fill="#fff" fill-opacity="0.040"/>
<rect x="286.5" y="132.00" width="305.50" height="1.00" fill="#fff" fill-opacity="0.000"/>
<rect x="116.0" y="133.00" width="139.80" height="1.00" fill="#000" fill-opacity="0.012"/>
<rect x="286.5" y="133.00" width="305.50" height="1.00" fill="#fff" fill-opacity="0.038"/>
<rect x="116.0" y="134.00" width="139.80" height="1.00" fill="#000" fill-opacity="0.027"/>
<rect x="286.5" y="134.00" width="305.50" height="1.00" fill="#000" fill-opacity="0.004"/>
<rect x="116.0" y="135.00" width="139.80" height="1.00" fill="#fff" fill-opacity="0.003"/>
<rect x="286.5" y="135.00" width="305.50" height="1.00" fill="#fff" fill-opacity="0.025"/>
<rect x="116.0" y="136.00" width="139.80" height="1.00" fill="#fff" fill-opacity="0.025"/>
<rect x="286.5" y="136.00" width="305.50" height="1.00" fill="#fff" fill-opacity="0.015"/>
<rect x="116.0" y="137.00" width="139.80" height="1.00" fill="#000" fill-opacity="0.015"/>
<rect x="286.5" y="137.00" width="305.50" height="1.00" fill="#000" fill-opacity="0.017"/>
<rect x="116.0" y="138.00" width="139.80" height="1.00" fill="#000" fill-opacity="0.034"/>
<rect x="286.5" y="138.00" width="305.50" height="1.00" fill="#fff" fill-opacity="0.034"/>
<rect x="116.0" y="139.00" width="139.80" height="1.00" fill="#fff" fill-opacity="0.016"/>
<rect x="286.5" y="139.00" width="305.50" height="1.00" fill="#fff" fill-opacity="0.024"/>
<rect x="116.0" y="140.00" width="139.80" height="1.00" fill="#000" fill-opacity="0.033"/>
<rect x="286.5" y="140.00" width="305.50" height="1.00" fill="#000" fill-opacity="0.006"/>
<rect x="116.0" y="141.00" width="139.80" height="1.00" fill="#fff" fill-opacity="0.027"/>
<rect x="286.5" y="141.00" width="305.50" height="1.00" fill="#fff" fill-opacity="0.008"/>
<rect x="116.0" y="142.00" width="139.80" height="1.00" fill="#000" fill-opacity="0.037"/>
<rect x="286.5" y="142.00" width="305.50" height="1.00" fill="#000" fill-opacity="0.004"/>
<rect x="116.0" y="143.00" width="139.80" height="1.00" fill="#fff" fill-opacity="0.039"/>
<rect x="286.5" y="143.00" width="305.50" height="1.00" fill="#000" fill-opacity="0.026"/>
<rect x="116.0" y="144.00" width="139.80" height="0.70" fill="#000" fill-opacity="0.031"/>
<rect x="286.5" y="144.00" width="305.50" height="0.70" fill="#000" fill-opacity="0.020"/>
<rect x="115.2" y="124.0" width="1.6" height="20.70" fill="#222"/>
<rect x="283.7" y="124.0" width="2.8" height="20.70" fill="#000"/>
<rect x="116.0" y="164.0" width="139.8" height="15.50" fill="url(#g17L)"/>
<rect x="255.8" y="164.0" width="1.8" height="15.50" fill="#000"/>
<rect x="284.3" y="164.0" width="307.7" height="15.50" fill="url(#g17R)"/>
<rect x="592.0" y="164.0" width="2.8" height="15.50" fill="#000"/>
<rect x="116.0" y="164.00" width="139.80" height="1.00" fill="#fff" fill-opacity="0.020"/>
<rect x="284.3" y="164.00" width="307.70" height="1.00" fill="#fff" fill-opacity="0.017"/>
<rect x="116.0" y="165.00" width="139.80" height="1.00" fill="#000" fill-opacity="0.035"/>
<rect x="284.3" y="165.00" width="307.70" height="1.00" fill="#000" fill-opacity="0.017"/>
<rect x="116.0" y="166.00" width="139.80" height="1.00" fill="#000" fill-opacity="0.025"/>
<rect x="284.3" y="166.00" width="307.70" height="1.00" fill="#000" fill-opacity="0.009"/>
<rect x="116.0" y="167.00" width="139.80" height="1.00" fill="#fff" fill-opacity="0.002"/>
<rect x="284.3" y="167.00" width="307.70" height="1.00" fill="#000" fill-opacity="0.017"/>
<rect x="116.0" y="168.00" width="139.80" height="1.00" fill="#000" fill-opacity="0.017"/>
<rect x="284.3" y="168.00" width="307.70" height="1.00" fill="#000" fill-opacity="0.016"/>
<rect x="116.0" y="169.00" width="139.80" height="1.00" fill="#fff" fill-opacity="0.048"/>
<rect x="284.3" y="169.00" width="307.70" height="1.00" fill="#fff" fill-opacity="0.011"/>
<rect x="116.0" y="170.00" width="139.80" height="1.00" fill="#000" fill-opacity="0.040"/>
<rect x="284.3" y="170.00" width="307.70" height="1.00" fill="#fff" fill-opacity="0.023"/>
<rect x="116.0" y="171.00" width="139.80" height="1.00" fill="#000" fill-opacity="0.040"/>
<rect x="284.3" y="171.00" width="307.70" height="1.00" fill="#000" fill-opacity="0.006"/>
<rect x="116.0" y="172.00" width="139.80" height="1.00" fill="#fff" fill-opacity="0.048"/>
<rect x="284.3" y="172.00" width="307.70" height="1.00" fill="#fff" fill-opacity="0.015"/>
<rect x="116.0" y="173.00" width="139.80" height="1.00" fill="#fff" fill-opacity="0.023"/>
<rect x="284.3" y="173.00" width="307.70" height="1.00" fill="#000" fill-opacity="0.003"/>
<rect x="116.0" y="174.00" width="139.80" height="1.00" fill="#000" fill-opacity="0.030"/>
<rect x="284.3" y="174.00" width="307.70" height="1.00" fill="#fff" fill-opacity="0.007"/>
<rect x="116.0" y="175.00" width="139.80" height="1.00" fill="#000" fill-opacity="0.039"/>
<rect x="284.3" y="175.00" width="307.70" height="1.00" fill="#000" fill-opacity="0.015"/>
<rect x="116.0" y="176.00" width="139.80" height="1.00" fill="#000" fill-opacity="0.011"/>
<rect x="284.3" y="176.00" width="307.70" height="1.00" fill="#000" fill-opacity="0.023"/>
<rect x="116.0" y="177.00" width="139.80" height="1.00" fill="#000" fill-opacity="0.010"/>
<rect x="284.3" y="177.00" width="307.70" height="1.00" fill="#fff" fill-opacity="0.015"/>
<rect x="116.0" y="178.00" width="139.80" height="1.00" fill="#fff" fill-opacity="0.019"/>
<rect x="284.3" y="178.00" width="307.70" height="1.00" fill="#fff" fill-opacity="0.000"/>
<rect x="116.0" y="179.00" width="139.80" height="0.50" fill="#fff" fill-opacity="0.013"/>
<rect x="284.3" y="179.00" width="307.70" height="0.50" fill="#000" fill-opacity="0.002"/>
<rect x="116.0" y="194.3" width="139.8" height="18.00" fill="url(#g16L)"/>
<rect x="255.8" y="194.3" width="1.8" height="18.00" fill="#000"/>
<rect x="284.3" y="194.3" width="307.7" height="18.00" fill="url(#g16R)"/>
<rect x="592.0" y="194.3" width="2.8" height="18.00" fill="#000"/>
<rect x="116.0" y="194.30" width="139.80" height="1.00" fill="#000" fill-opacity="0.036"/>
<rect x="284.3" y="194.30" width="307.70" height="1.00" fill="#fff" fill-opacity="0.005"/>
<rect x="116.0" y="195.30" width="139.80" height="1.00" fill="#000" fill-opacity="0.010"/>
<rect x="284.3" y="195.30" width="307.70" height="1.00" fill="#fff" fill-opacity="0.012"/>
<rect x="116.0" y="196.30" width="139.80" height="1.00" fill="#fff" fill-opacity="0.041"/>
<rect x="284.3" y="196.30" width="307.70" height="1.00" fill="#000" fill-opacity="0.003"/>
<rect x="116.0" y="197.30" width="139.80" height="1.00" fill="#fff" fill-opacity="0.007"/>
<rect x="284.3" y="197.30" width="307.70" height="1.00" fill="#fff" fill-opacity="0.012"/>
<rect x="116.0" y="198.30" width="139.80" height="1.00" fill="#000" fill-opacity="0.008"/>
<rect x="284.3" y="198.30" width="307.70" height="1.00" fill="#000" fill-opacity="0.014"/>
<rect x="116.0" y="199.30" width="139.80" height="1.00" fill="#fff" fill-opacity="0.022"/>
<rect x="284.3" y="199.30" width="307.70" height="1.00" fill="#fff" fill-opacity="0.019"/>
<rect x="116.0" y="200.30" width="139.80" height="1.00" fill="#fff" fill-opacity="0.027"/>
<rect x="284.3" y="200.30" width="307.70" height="1.00" fill="#fff" fill-opacity="0.010"/>
<rect x="116.0" y="201.30" width="139.80" height="1.00" fill="#fff" fill-opacity="0.035"/>
<rect x="284.3" y="201.30" width="307.70" height="1.00" fill="#fff" fill-opacity="0.009"/>
<rect x="116.0" y="202.30" width="139.80" height="1.00" fill="#fff" fill-opacity="0.014"/>
<rect x="284.3" y="202.30" width="307.70" height="1.00" fill="#000" fill-opacity="0.002"/>
<rect x="116.0" y="203.30" width="139.80" height="1.00" fill="#000" fill-opacity="0.019"/>
<rect x="284.3" y="203.30" width="307.70" height="1.00" fill="#fff" fill-opacity="0.006"/>
<rect x="116.0" y="204.30" width="139.80" height="1.00" fill="#000" fill-opacity="0.040"/>
<rect x="284.3" y="204.30" width="307.70" height="1.00" fill="#000" fill-opacity="0.004"/>
<rect x="116.0" y="205.30" width="139.80" height="1.00" fill="#fff" fill-opacity="0.028"/>
<rect x="284.3" y="205.30" width="307.70" height="1.00" fill="#fff" fill-opacity="0.011"/>
<rect x="116.0" y="206.30" width="139.80" height="1.00" fill="#fff" fill-opacity="0.013"/>
<rect x="284.3" y="206.30" width="307.70" height="1.00" fill="#000" fill-opacity="0.012"/>
<rect x="116.0" y="207.30" width="139.80" height="1.00" fill="#000" fill-opacity="0.008"/>
<rect x="284.3" y="207.30" width="307.70" height="1.00" fill="#000" fill-opacity="0.002"/>
<rect x="116.0" y="208.30" width="139.80" height="1.00" fill="#fff" fill-opacity="0.012"/>
<rect x="284.3" y="208.30" width="307.70" height="1.00" fill="#000" fill-opacity="0.005"/>
<rect x="116.0" y="209.30" width="139.80" height="1.00" fill="#fff" fill-opacity="0.018"/>
<rect x="284.3" y="209.30" width="307.70" height="1.00" fill="#fff" fill-opacity="0.022"/>
<rect x="116.0" y="210.30" width="139.80" height="1.00" fill="#000" fill-opacity="0.032"/>
<rect x="284.3" y="210.30" width="307.70" height="1.00" fill="#fff" fill-opacity="0.008"/>
<rect x="116.0" y="211.30" width="139.80" height="1.00" fill="#fff" fill-opacity="0.028"/>
<rect x="284.3" y="211.30" width="307.70" height="1.00" fill="#000" fill-opacity="0.006"/>
<rect x="115.2" y="194.3" width="1.6" height="18.00" fill="#222"/>
<rect x="130" y="128.0" width="8.5" height="1.2" fill="#fff" fill-opacity="0.21"/>
<rect x="171" y="129.2" width="15" height="1.2" fill="#fff" fill-opacity="0.18"/>
<rect x="189" y="128.2" width="14" height="1.2" fill="#fff" fill-opacity="0.21"/>
<rect x="232" y="128.6" width="8" height="1.2" fill="#fff" fill-opacity="0.15"/>
<rect x="298" y="137.6" width="5" height="1.2" fill="#fff" fill-opacity="0.48"/>
<rect x="461" y="128.4" width="9" height="1.2" fill="#fff" fill-opacity="0.15"/>
<rect x="523" y="129.0" width="10" height="1.2" fill="#fff" fill-opacity="0.18"/>
<rect x="540" y="128.0" width="7" height="1.2" fill="#fff" fill-opacity="0.36"/>
<rect x="566" y="128.4" width="8" height="1.2" fill="#fff" fill-opacity="0.18"/>
<rect x="420" y="128.8" width="8" height="1.2" fill="#fff" fill-opacity="0.12"/>
<line x1="97.8" y1="20.2" x2="97.8" y2="46.6" stroke="#111" stroke-width="1.1"/>
<line x1="97.8" y1="40.50" x2="106.10" y2="40.50" stroke="#111" stroke-width="1.1"/>
<line x1="97.8" y1="26.80" x2="106.10" y2="26.80" stroke="#111" stroke-width="1.1"/>
<line x1="97.8" y1="33.65" x2="102.00" y2="33.65" stroke="#111" stroke-width="1.1"/>
<line x1="619.6" y1="20.2" x2="619.6" y2="46.6" stroke="#111" stroke-width="1.1"/>
<line x1="619.6" y1="40.50" x2="611.30" y2="40.50" stroke="#111" stroke-width="1.1"/>
<line x1="619.6" y1="26.80" x2="611.30" y2="26.80" stroke="#111" stroke-width="1.1"/>
<line x1="619.6" y1="33.65" x2="615.40" y2="33.65" stroke="#111" stroke-width="1.1"/>
<line x1="97.8" y1="57.0" x2="97.8" y2="109.8" stroke="#111" stroke-width="1.1"/>
<line x1="97.8" y1="99.20" x2="106.10" y2="99.20" stroke="#111" stroke-width="1.1"/>
<line x1="97.8" y1="85.44" x2="106.10" y2="85.44" stroke="#111" stroke-width="1.1"/>
<line x1="97.8" y1="71.68" x2="106.10" y2="71.68" stroke="#111" stroke-width="1.1"/>
<line x1="97.8" y1="57.92" x2="106.10" y2="57.92" stroke="#111" stroke-width="1.1"/>
<line x1="97.8" y1="106.08" x2="102.00" y2="106.08" stroke="#111" stroke-width="1.1"/>
<line x1="97.8" y1="92.32" x2="102.00" y2="92.32" stroke="#111" stroke-width="1.1"/>
<line x1="97.8" y1="78.56" x2="102.00" y2="78.56" stroke="#111" stroke-width="1.1"/>
<line x1="97.8" y1="64.80" x2="102.00" y2="64.80" stroke="#111" stroke-width="1.1"/>
<line x1="619.6" y1="57.0" x2="619.6" y2="109.8" stroke="#111" stroke-width="1.1"/>
<line x1="619.6" y1="99.20" x2="611.30" y2="99.20" stroke="#111" stroke-width="1.1"/>
<line x1="619.6" y1="85.44" x2="611.30" y2="85.44" stroke="#111" stroke-width="1.1"/>
<line x1="619.6" y1="71.68" x2="611.30" y2="71.68" stroke="#111" stroke-width="1.1"/>
<line x1="619.6" y1="57.92" x2="611.30" y2="57.92" stroke="#111" stroke-width="1.1"/>
<line x1="619.6" y1="106.08" x2="615.40" y2="106.08" stroke="#111" stroke-width="1.1"/>
<line x1="619.6" y1="92.32" x2="615.40" y2="92.32" stroke="#111" stroke-width="1.1"/>
<line x1="619.6" y1="78.56" x2="615.40" y2="78.56" stroke="#111" stroke-width="1.1"/>
<line x1="619.6" y1="64.80" x2="615.40" y2="64.80" stroke="#111" stroke-width="1.1"/>
<line x1="97.8" y1="119.0" x2="97.8" y2="145.2" stroke="#111" stroke-width="1.1"/>
<line x1="97.8" y1="142.60" x2="106.10" y2="142.60" stroke="#111" stroke-width="1.1"/>
<line x1="97.8" y1="128.40" x2="106.10" y2="128.40" stroke="#111" stroke-width="1.1"/>
<line x1="97.8" y1="135.50" x2="102.00" y2="135.50" stroke="#111" stroke-width="1.1"/>
<line x1="97.8" y1="121.30" x2="102.00" y2="121.30" stroke="#111" stroke-width="1.1"/>
<line x1="619.6" y1="119.0" x2="619.6" y2="145.2" stroke="#111" stroke-width="1.1"/>
<line x1="619.6" y1="142.60" x2="611.30" y2="142.60" stroke="#111" stroke-width="1.1"/>
<line x1="619.6" y1="128.40" x2="611.30" y2="128.40" stroke="#111" stroke-width="1.1"/>
<line x1="619.6" y1="135.50" x2="615.40" y2="135.50" stroke="#111" stroke-width="1.1"/>
<line x1="619.6" y1="121.30" x2="615.40" y2="121.30" stroke="#111" stroke-width="1.1"/>
<line x1="97.8" y1="155.2" x2="97.8" y2="180.7" stroke="#111" stroke-width="1.1"/>
<line x1="97.8" y1="177.60" x2="106.10" y2="177.60" stroke="#111" stroke-width="1.1"/>
<line x1="97.8" y1="163.50" x2="106.10" y2="163.50" stroke="#111" stroke-width="1.1"/>
<line x1="97.8" y1="170.55" x2="102.00" y2="170.55" stroke="#111" stroke-width="1.1"/>
<line x1="97.8" y1="156.45" x2="102.00" y2="156.45" stroke="#111" stroke-width="1.1"/>
<line x1="619.6" y1="155.2" x2="619.6" y2="180.7" stroke="#111" stroke-width="1.1"/>
<line x1="619.6" y1="177.60" x2="611.30" y2="177.60" stroke="#111" stroke-width="1.1"/>
<line x1="619.6" y1="163.50" x2="611.30" y2="163.50" stroke="#111" stroke-width="1.1"/>
<line x1="619.6" y1="170.55" x2="615.40" y2="170.55" stroke="#111" stroke-width="1.1"/>
<line x1="619.6" y1="156.45" x2="615.40" y2="156.45" stroke="#111" stroke-width="1.1"/>
<line x1="97.8" y1="190.8" x2="97.8" y2="216.6" stroke="#111" stroke-width="1.1"/>
<line x1="97.8" y1="210.50" x2="106.10" y2="210.50" stroke="#111" stroke-width="1.1"/>
<line x1="97.8" y1="196.80" x2="106.10" y2="196.80" stroke="#111" stroke-width="1.1"/>
<line x1="97.8" y1="203.65" x2="102.00" y2="203.65" stroke="#111" stroke-width="1.1"/>
<line x1="619.6" y1="190.8" x2="619.6" y2="216.6" stroke="#111" stroke-width="1.1"/>
<line x1="619.6" y1="210.50" x2="611.30" y2="210.50" stroke="#111" stroke-width="1.1"/>
<line x1="619.6" y1="196.80" x2="611.30" y2="196.80" stroke="#111" stroke-width="1.1"/>
<line x1="619.6" y1="203.65" x2="615.40" y2="203.65" stroke="#111" stroke-width="1.1"/>
<text transform="translate(89.0,44.5) scale(1.18,1)" font-family='"Liberation Serif", "DejaVu Serif", serif' font-size="12" font-weight="normal" text-anchor="end" fill="#111" stroke="#111" stroke-width="0.25">0</text>
<text transform="translate(627.8,44.5) scale(1.18,1)" font-family='"Liberation Serif", "DejaVu Serif", serif' font-size="12" font-weight="normal" text-anchor="start" fill="#111" stroke="#111" stroke-width="0.25">0</text>
<text transform="translate(89.0,30.8) scale(1.18,1)" font-family='"Liberation Serif", "DejaVu Serif", serif' font-size="12" font-weight="normal" text-anchor="end" fill="#111" stroke="#111" stroke-width="0.25">2</text>
<text transform="translate(627.8,30.8) scale(1.18,1)" font-family='"Liberation Serif", "DejaVu Serif", serif' font-size="12" font-weight="normal" text-anchor="start" fill="#111" stroke="#111" stroke-width="0.25">2</text>
<text transform="translate(89.0,103.2) scale(1.18,1)" font-family='"Liberation Serif", "DejaVu Serif", serif' font-size="12" font-weight="normal" text-anchor="end" fill="#111" stroke="#111" stroke-width="0.25">0</text>
<text transform="translate(627.8,103.2) scale(1.18,1)" font-family='"Liberation Serif", "DejaVu Serif", serif' font-size="12" font-weight="normal" text-anchor="start" fill="#111" stroke="#111" stroke-width="0.25">0</text>
<text transform="translate(89.0,89.44) scale(1.18,1)" font-family='"Liberation Serif", "DejaVu Serif", serif' font-size="12" font-weight="normal" text-anchor="end" fill="#111" stroke="#111" stroke-width="0.25">2</text>
<text transform="translate(627.8,89.44) scale(1.18,1)" font-family='"Liberation Serif", "DejaVu Serif", serif' font-size="12" font-weight="normal" text-anchor="start" fill="#111" stroke="#111" stroke-width="0.25">2</text>
<text transform="translate(89.0,75.68) scale(1.18,1)" font-family='"Liberation Serif", "DejaVu Serif", serif' font-size="12" font-weight="normal" text-anchor="end" fill="#111" stroke="#111" stroke-width="0.25">4</text>
<text transform="translate(627.8,75.68) scale(1.18,1)" font-family='"Liberation Serif", "DejaVu Serif", serif' font-size="12" font-weight="normal" text-anchor="start" fill="#111" stroke="#111" stroke-width="0.25">4</text>
<text transform="translate(89.0,61.92) scale(1.18,1)" font-family='"Liberation Serif", "DejaVu Serif", serif' font-size="12" font-weight="normal" text-anchor="end" fill="#111" stroke="#111" stroke-width="0.25">6</text>
<text transform="translate(627.8,61.92) scale(1.18,1)" font-family='"Liberation Serif", "DejaVu Serif", serif' font-size="12" font-weight="normal" text-anchor="start" fill="#111" stroke="#111" stroke-width="0.25">6</text>
<text transform="translate(89.0,146.6) scale(1.18,1)" font-family='"Liberation Serif", "DejaVu Serif", serif' font-size="12" font-weight="normal" text-anchor="end" fill="#111" stroke="#111" stroke-width="0.25">0</text>
<text transform="translate(627.8,146.6) scale(1.18,1)" font-family='"Liberation Serif", "DejaVu Serif", serif' font-size="12" font-weight="normal" text-anchor="start" fill="#111" stroke="#111" stroke-width="0.25">0</text>
<text transform="translate(89.0,132.4) scale(1.18,1)" font-family='"Liberation Serif", "DejaVu Serif", serif' font-size="12" font-weight="normal" text-anchor="end" fill="#111" stroke="#111" stroke-width="0.25">2</text>
<text transform="translate(627.8,132.4) scale(1.18,1)" font-family='"Liberation Serif", "DejaVu Serif", serif' font-size="12" font-weight="normal" text-anchor="start" fill="#111" stroke="#111" stroke-width="0.25">2</text>
<text transform="translate(89.0,181.6) scale(1.18,1)" font-family='"Liberation Serif", "DejaVu Serif", serif' font-size="12" font-weight="normal" text-anchor="end" fill="#111" stroke="#111" stroke-width="0.25">0</text>
<text transform="translate(627.8,181.6) scale(1.18,1)" font-family='"Liberation Serif", "DejaVu Serif", serif' font-size="12" font-weight="normal" text-anchor="start" fill="#111" stroke="#111" stroke-width="0.25">0</text>
<text transform="translate(89.0,167.5) scale(1.18,1)" font-family='"Liberation Serif", "DejaVu Serif", serif' font-size="12" font-weight="normal" text-anchor="end" fill="#111" stroke="#111" stroke-width="0.25">2</text>
<text transform="translate(627.8,167.5) scale(1.18,1)" font-family='"Liberation Serif", "DejaVu Serif", serif' font-size="12" font-weight="normal" text-anchor="start" fill="#111" stroke="#111" stroke-width="0.25">2</text>
<text transform="translate(89.0,214.5) scale(1.18,1)" font-family='"Liberation Serif", "DejaVu Serif", serif' font-size="12" font-weight="normal" text-anchor="end" fill="#111" stroke="#111" stroke-width="0.25">0</text>
<text transform="translate(627.8,214.5) scale(1.18,1)" font-family='"Liberation Serif", "DejaVu Serif", serif' font-size="12" font-weight="normal" text-anchor="start" fill="#111" stroke="#111" stroke-width="0.25">0</text>
<text transform="translate(89.0,200.8) scale(1.18,1)" font-family='"Liberation Serif", "DejaVu Serif", serif' font-size="12" font-weight="normal" text-anchor="end" fill="#111" stroke="#111" stroke-width="0.25">2</text>
<text transform="translate(627.8,200.8) scale(1.18,1)" font-family='"Liberation Serif", "DejaVu Serif", serif' font-size="12" font-weight="normal" text-anchor="start" fill="#111" stroke="#111" stroke-width="0.25">2</text>
<text transform="translate(11.0,16.8) scale(1.2,1)" font-family='"Liberation Serif", "DejaVu Serif", serif' font-size="12.8" font-weight="normal" text-anchor="start" fill="#111" stroke="#111" stroke-width="0.2" textLength="34.6" lengthAdjust="spacing">March</text>
<text transform="translate(24.0,37.7) scale(1.3,1)" font-family='"Liberation Serif", "DejaVu Serif", serif' font-size="12" font-weight="normal" text-anchor="start" fill="#111" stroke="#111" stroke-width="0.2" textLength="12.3" lengthAdjust="spacing">20</text>
<text transform="translate(24.0,87.3) scale(1.3,1)" font-family='"Liberation Serif", "DejaVu Serif", serif' font-size="12" font-weight="normal" text-anchor="start" fill="#111" stroke="#111" stroke-width="0.2" textLength="12.3" lengthAdjust="spacing">19</text>
<text transform="translate(24.0,136.8) scale(1.3,1)" font-family='"Liberation Serif", "DejaVu Serif", serif' font-size="12" font-weight="normal" text-anchor="start" fill="#111" stroke="#111" stroke-width="0.2" textLength="12.3" lengthAdjust="spacing">18</text>
<text transform="translate(24.0,172.5) scale(1.3,1)" font-family='"Liberation Serif", "DejaVu Serif", serif' font-size="12" font-weight="normal" text-anchor="start" fill="#111" stroke="#111" stroke-width="0.2" textLength="12.3" lengthAdjust="spacing">17</text>
<text transform="translate(24.0,207.6) scale(1.3,1)" font-family='"Liberation Serif", "DejaVu Serif", serif' font-size="12" font-weight="normal" text-anchor="start" fill="#111" stroke="#111" stroke-width="0.2" textLength="12.3" lengthAdjust="spacing">16</text>
<text transform="translate(255.6,16.0)" font-family='"Liberation Serif", "DejaVu Serif", serif' font-size="10.5" font-weight="normal" text-anchor="start" fill="#111" stroke="#111" stroke-width="0.45" textLength="31" lengthAdjust="spacingAndGlyphs">Phase</text>
<text transform="translate(274.9,42.8) rotate(-90)" font-family='"Liberation Serif", "DejaVu Serif", serif' font-size="11.2" font-weight="normal" text-anchor="start" fill="#111" stroke="#111" stroke-width="0.45" textLength="19" lengthAdjust="spacingAndGlyphs">.182</text>
<text transform="translate(274.9,101.8) rotate(-90)" font-family='"Liberation Serif", "DejaVu Serif", serif' font-size="11.2" font-weight="normal" text-anchor="start" fill="#111" stroke="#111" stroke-width="0.45" textLength="19" lengthAdjust="spacingAndGlyphs">.170</text>
<text transform="translate(274.9,144.6) rotate(-90)" font-family='"Liberation Serif", "DejaVu Serif", serif' font-size="11.2" font-weight="normal" text-anchor="start" fill="#111" stroke="#111" stroke-width="0.45" textLength="19" lengthAdjust="spacingAndGlyphs">.157</text>
<text transform="translate(274.9,179.6) rotate(-90)" font-family='"Liberation Serif", "DejaVu Serif", serif' font-size="11.2" font-weight="normal" text-anchor="start" fill="#111" stroke="#111" stroke-width="0.45" textLength="19" lengthAdjust="spacingAndGlyphs">.144</text>
<text transform="translate(274.9,212.9) rotate(-90)" font-family='"Liberation Serif", "DejaVu Serif", serif' font-size="11.2" font-weight="normal" text-anchor="start" fill="#111" stroke="#111" stroke-width="0.45" textLength="19" lengthAdjust="spacingAndGlyphs">.131</text>
<text transform="translate(71.4,152.0) rotate(-90)" font-family='"Liberation Serif", "DejaVu Serif", serif' font-size="13.5" font-weight="normal" text-anchor="start" fill="#111" stroke="#111" stroke-width="0.25" textLength="40.5" lengthAdjust="spacing">UT / h</text>
<line x1="97.8" y1="226.4" x2="271.2" y2="226.4" stroke="#000" stroke-width="1.2"/>
<line x1="279.3" y1="226.4" x2="620.1" y2="226.4" stroke="#000" stroke-width="1.2"/>
<line x1="97.8" y1="315.35" x2="271.2" y2="315.35" stroke="#333" stroke-width="1.05"/>
<line x1="279.3" y1="315.35" x2="620.1" y2="315.35" stroke="#333" stroke-width="1.05"/>
<line x1="97.8" y1="226.4" x2="97.8" y2="315.35" stroke="#222" stroke-width="1.1"/>
<line x1="619.6" y1="226.4" x2="619.6" y2="315.35" stroke="#222" stroke-width="1.1"/>
<line x1="135.3" y1="219.20000000000002" x2="135.3" y2="233.5" stroke="#111" stroke-width="1.1"/>
<line x1="135.3" y1="315.35" x2="135.3" y2="308.35" stroke="#111" stroke-width="1.1"/>
<line x1="182.1" y1="222.20000000000002" x2="182.1" y2="230.20000000000002" stroke="#111" stroke-width="1.1"/>
<line x1="182.1" y1="315.35" x2="182.1" y2="312.05" stroke="#111" stroke-width="1.1"/>
<line x1="228.6" y1="219.20000000000002" x2="228.6" y2="233.5" stroke="#111" stroke-width="1.1"/>
<line x1="228.6" y1="315.35" x2="228.6" y2="308.35" stroke="#111" stroke-width="1.1"/>
<line x1="310.2" y1="222.20000000000002" x2="310.2" y2="230.20000000000002" stroke="#111" stroke-width="1.1"/>
<line x1="310.2" y1="315.35" x2="310.2" y2="312.05" stroke="#111" stroke-width="1.1"/>
<line x1="362.0" y1="219.20000000000002" x2="362.0" y2="233.5" stroke="#111" stroke-width="1.1"/>
<line x1="362.0" y1="315.35" x2="362.0" y2="308.35" stroke="#111" stroke-width="1.1"/>
<line x1="413.4" y1="222.20000000000002" x2="413.4" y2="230.20000000000002" stroke="#111" stroke-width="1.1"/>
<line x1="413.4" y1="315.35" x2="413.4" y2="312.05" stroke="#111" stroke-width="1.1"/>
<line x1="465.0" y1="219.20000000000002" x2="465.0" y2="233.5" stroke="#111" stroke-width="1.1"/>
<line x1="465.0" y1="315.35" x2="465.0" y2="308.35" stroke="#111" stroke-width="1.1"/>
<line x1="516.6" y1="222.20000000000002" x2="516.6" y2="230.20000000000002" stroke="#111" stroke-width="1.1"/>
<line x1="516.6" y1="315.35" x2="516.6" y2="312.05" stroke="#111" stroke-width="1.1"/>
<line x1="568.6" y1="219.20000000000002" x2="568.6" y2="233.5" stroke="#111" stroke-width="1.1"/>
<line x1="568.6" y1="315.35" x2="568.6" y2="308.35" stroke="#111" stroke-width="1.1"/>
<line x1="97.8" y1="248.4" x2="106.3" y2="248.4" stroke="#111" stroke-width="1.1"/>
<line x1="97.8" y1="270.9" x2="102.3" y2="270.9" stroke="#111" stroke-width="1.1"/>
<line x1="97.8" y1="293.3" x2="106.3" y2="293.3" stroke="#111" stroke-width="1.1"/>
<line x1="619.6" y1="241.3" x2="615.1" y2="241.3" stroke="#111" stroke-width="1.1"/>
<line x1="619.6" y1="260.8" x2="611.0" y2="260.8" stroke="#111" stroke-width="1.1"/>
<line x1="619.6" y1="280.3" x2="615.1" y2="280.3" stroke="#111" stroke-width="1.1"/>
<line x1="619.6" y1="300.1" x2="611.0" y2="300.1" stroke="#111" stroke-width="1.1"/>
<text transform="translate(90.0,252.3)" font-family='"Liberation Serif", "DejaVu Serif", serif' font-size="12" font-weight="normal" text-anchor="end" fill="#111" stroke="#111" stroke-width="0.25" textLength="19.0" lengthAdjust="spacing">1.2</text>
<text transform="translate(88.9,297.3) scale(1.18,1)" font-family='"Liberation Serif", "DejaVu Serif", serif' font-size="12" font-weight="normal" text-anchor="end" fill="#111" stroke="#111" stroke-width="0.25">1</text>
<text transform="translate(627.8,264.8) scale(1.18,1)" font-family='"Liberation Serif", "DejaVu Serif", serif' font-size="12" font-weight="normal" text-anchor="start" fill="#111" stroke="#111" stroke-width="0.25">2</text>
<text transform="translate(627.8,304.1) scale(1.18,1)" font-family='"Liberation Serif", "DejaVu Serif", serif' font-size="12" font-weight="normal" text-anchor="start" fill="#111" stroke="#111" stroke-width="0.25">1</text>
<text transform="translate(118.4,329.8) scale(1.3,1)" font-family='"Liberation Serif", "DejaVu Serif", serif' font-size="12" font-weight="normal" text-anchor="start" fill="#111" stroke="#111" stroke-width="0.2" textLength="26.2" lengthAdjust="spacing">5400</text>
<text transform="translate(211.70000000000002,329.8) scale(1.3,1)" font-family='"Liberation Serif", "DejaVu Serif", serif' font-size="12" font-weight="normal" text-anchor="start" fill="#111" stroke="#111" stroke-width="0.2" textLength="26.2" lengthAdjust="spacing">5500</text>
<text transform="translate(344.79999999999995,329.8) scale(1.3,1)" font-family='"Liberation Serif", "DejaVu Serif", serif' font-size="12" font-weight="normal" text-anchor="start" fill="#111" stroke="#111" stroke-width="0.2" textLength="26.2" lengthAdjust="spacing">5700</text>
<text transform="translate(448.29999999999995,329.8) scale(1.3,1)" font-family='"Liberation Serif", "DejaVu Serif", serif' font-size="12" font-weight="normal" text-anchor="start" fill="#111" stroke="#111" stroke-width="0.2" textLength="26.2" lengthAdjust="spacing">5800</text>
<text transform="translate(551.9,329.8) scale(1.3,1)" font-family='"Liberation Serif", "DejaVu Serif", serif' font-size="12" font-weight="normal" text-anchor="start" fill="#111" stroke="#111" stroke-width="0.2" textLength="26.2" lengthAdjust="spacing">5900</text>
<text transform="translate(132.2,346.6) scale(1.15,1)" font-family='"Liberation Serif", "DejaVu Serif", serif' font-size="13" font-weight="normal" text-anchor="start" fill="#111" stroke="#111" stroke-width="0.4" textLength="66.6" lengthAdjust="spacing">wavelength</text>
<text transform="translate(216.39999999999998,346.6) scale(1.08,1)" font-family='"Liberation Serif", "DejaVu Serif", serif' font-size="13" font-weight="normal" text-anchor="start" fill="#111" stroke="#111" stroke-width="0.35">(Å)</text>
<text transform="translate(397.8,346.6) scale(1.15,1)" font-family='"Liberation Serif", "DejaVu Serif", serif' font-size="13" font-weight="normal" text-anchor="start" fill="#111" stroke="#111" stroke-width="0.4" textLength="66.6" lengthAdjust="spacing">wavelength</text>
<text transform="translate(482.0,346.6) scale(1.08,1)" font-family='"Liberation Serif", "DejaVu Serif", serif' font-size="13" font-weight="normal" text-anchor="start" fill="#111" stroke="#111" stroke-width="0.35">(Å)</text>
<text transform="translate(59.6,297.5) rotate(-90)" font-family='"Liberation Serif", "DejaVu Serif", serif' font-size="14" font-weight="normal" text-anchor="start" fill="#111" stroke="#111" stroke-width="0.15" textLength="52.0" lengthAdjust="spacing">Intensity</text>
<path d="M116.50,292.80 C117.30,292.88 119.68,293.13 121.30,293.30 C122.92,293.47 124.72,293.93 126.20,293.80 C127.68,293.67 129.13,293.38 130.20,292.50 C131.27,291.62 131.80,290.38 132.60,288.50 C133.40,286.62 134.18,283.62 135.00,281.20 C135.82,278.78 136.68,276.15 137.50,274.00 C138.32,271.85 139.10,269.80 139.90,268.30 C140.70,266.80 141.50,265.73 142.30,265.00 C143.10,264.27 143.75,264.43 144.70,263.90 C145.65,263.37 146.92,262.55 148.00,261.80 C149.08,261.05 150.27,259.53 151.20,259.40 C152.13,259.27 152.78,259.78 153.60,261.00 C154.42,262.22 155.28,264.53 156.10,266.70 C156.92,268.87 157.70,271.72 158.50,274.00 C159.30,276.28 159.97,278.52 160.90,280.40 C161.83,282.28 162.88,284.17 164.10,285.30 C165.32,286.43 166.72,286.93 168.20,287.20 C169.68,287.47 171.38,287.03 173.00,286.90 C174.62,286.77 176.42,286.62 177.90,286.40 C179.38,286.18 180.68,286.07 181.90,285.60 C183.12,285.13 184.12,284.73 185.20,283.60 C186.28,282.47 187.53,280.40 188.40,278.80 C189.27,277.20 189.65,275.75 190.40,274.00 C191.15,272.25 191.93,270.73 192.90,268.30 C193.87,265.87 195.25,261.68 196.20,259.40 C197.15,257.12 197.80,255.67 198.60,254.60 C199.40,253.53 200.18,253.07 201.00,253.00 C201.82,252.93 202.68,253.40 203.50,254.20 C204.32,255.00 204.97,255.85 205.90,257.80 C206.83,259.75 208.02,263.20 209.10,265.90 C210.18,268.60 211.32,271.57 212.40,274.00 C213.48,276.43 214.38,278.75 215.60,280.50 C216.82,282.25 218.35,283.57 219.70,284.50 C221.05,285.43 222.22,285.70 223.70,286.10 C225.18,286.50 226.98,286.55 228.60,286.90 C230.22,287.25 231.78,287.85 233.40,288.20 C235.02,288.55 236.42,288.80 238.30,289.00 C240.18,289.20 242.82,289.20 244.70,289.40 C246.58,289.60 247.70,289.92 249.60,290.20 C251.50,290.48 255.02,290.95 256.10,291.10" fill="none" stroke="#151515" stroke-width="1.05"/>
<path d="M284.30,300.00 C286.45,299.90 293.25,299.57 297.20,299.40 C301.15,299.23 304.40,299.15 308.00,299.00 C311.60,298.85 315.75,298.68 318.80,298.50 C321.85,298.32 324.50,298.37 326.30,297.90 C328.10,297.43 328.52,296.78 329.60,295.70 C330.68,294.62 331.73,293.73 332.80,291.40 C333.87,289.07 334.92,285.47 336.00,281.70 C337.08,277.93 338.22,273.10 339.30,268.80 C340.38,264.50 341.43,259.50 342.50,255.90 C343.57,252.30 344.62,249.53 345.70,247.20 C346.78,244.87 347.92,243.15 349.00,241.90 C350.08,240.65 351.13,240.17 352.20,239.70 C353.27,239.23 354.15,239.00 355.40,239.10 C356.65,239.20 358.08,239.48 359.70,240.30 C361.32,241.12 363.48,242.48 365.10,244.00 C366.72,245.52 368.00,246.65 369.40,249.40 C370.80,252.15 372.32,256.92 373.50,260.50 C374.68,264.08 375.47,267.37 376.50,270.90 C377.53,274.43 378.63,278.63 379.70,281.70 C380.77,284.77 381.65,287.13 382.90,289.30 C384.15,291.47 385.40,293.33 387.20,294.70 C389.00,296.07 390.82,296.87 393.70,297.50 C396.58,298.13 400.55,298.25 404.50,298.50 C408.45,298.75 413.10,298.85 417.40,299.00 C421.70,299.15 426.35,299.23 430.30,299.40 C434.25,299.57 438.22,299.78 441.10,300.00 C443.98,300.22 445.80,301.23 447.60,300.70 C449.40,300.17 450.28,298.53 451.90,296.80 C453.52,295.07 455.48,292.45 457.30,290.30 C459.12,288.15 461.32,286.40 462.80,283.90 C464.28,281.40 465.10,278.90 466.20,275.30 C467.30,271.70 468.33,266.25 469.40,262.30 C470.47,258.35 471.60,254.28 472.60,251.60 C473.60,248.92 474.57,247.28 475.40,246.20 C476.23,245.12 476.62,244.93 477.60,245.10 C478.58,245.27 479.97,245.95 481.30,247.20 C482.63,248.45 484.17,250.08 485.60,252.60 C487.03,255.12 488.28,258.52 489.90,262.30 C491.52,266.08 493.52,271.27 495.30,275.30 C497.08,279.33 498.63,283.57 500.60,286.50 C502.57,289.43 504.93,291.12 507.10,292.90 C509.27,294.68 511.62,296.12 513.60,297.20 C515.58,298.28 517.38,299.40 519.00,299.40 C520.62,299.40 521.87,298.35 523.30,297.20 C524.73,296.05 526.17,294.07 527.60,292.50 C529.03,290.93 530.55,289.03 531.90,287.80 C533.25,286.57 534.40,285.33 535.70,285.10 C537.00,284.87 538.37,286.00 539.70,286.40 C541.03,286.80 542.22,287.43 543.70,287.50 C545.18,287.57 547.12,286.80 548.60,286.80 C550.08,286.80 551.12,286.90 552.60,287.50 C554.08,288.10 555.88,289.43 557.50,290.40 C559.12,291.37 560.68,292.35 562.30,293.30 C563.92,294.25 565.58,295.32 567.20,296.10 C568.82,296.88 570.12,297.43 572.00,298.00 C573.88,298.57 576.35,299.10 578.50,299.50 C580.65,299.90 583.02,300.17 584.90,300.40 C586.78,300.63 588.32,300.87 589.80,300.90 C591.28,300.93 593.13,300.65 593.80,300.60" fill="none" stroke="#151515" stroke-width="1.05"/>
</svg></body></html>
